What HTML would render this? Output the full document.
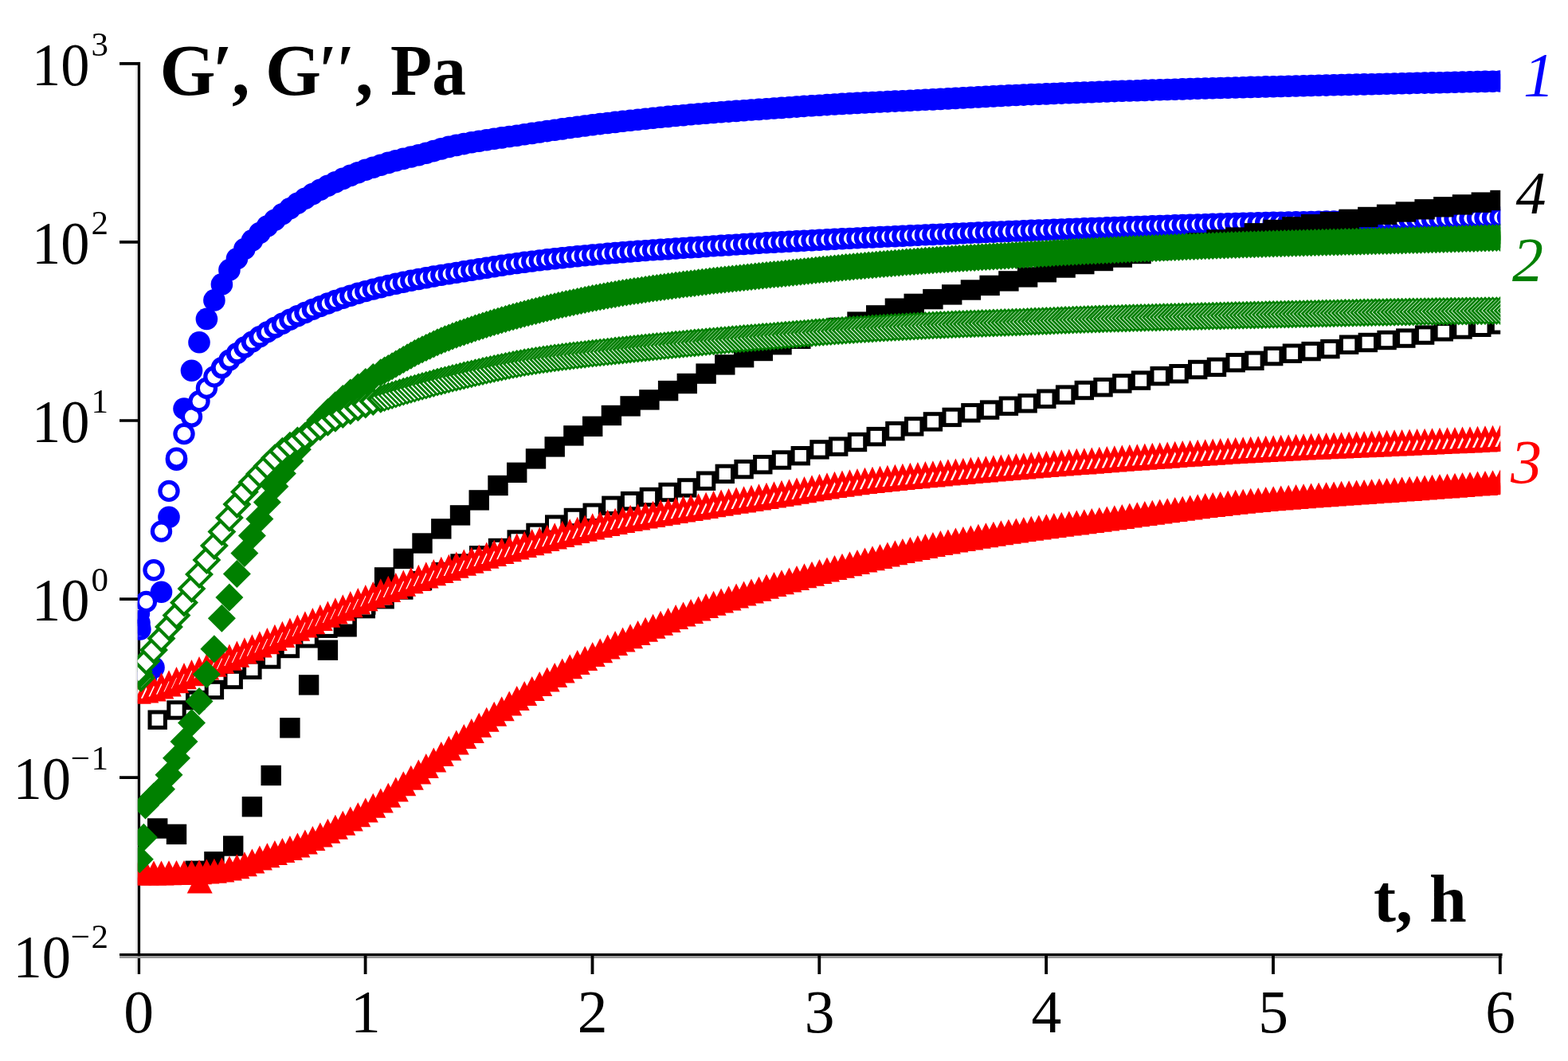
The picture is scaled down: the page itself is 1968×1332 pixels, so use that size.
<!DOCTYPE html>
<html lang="en"><head><meta charset="utf-8"><title>G', G'' vs t</title>
<style>
html,body{margin:0;padding:0;background:#fff;}
svg{display:block;}
text{font-family:"Liberation Serif","Times New Roman",serif;}
</style></head><body>
<svg width="1968" height="1332" viewBox="0 0 1968 1332">
<rect width="1968" height="1332" fill="#fff"/>
<defs><clipPath id="pc"><rect x="172.8" y="0" width="1710.4" height="1197"/></clipPath></defs>
<rect x="170.2" y="77.9" width="2.6" height="1145.1" fill="#ececec"/>
<rect x="172.8" y="77.9" width="3.3" height="1145.1" fill="#000"/>
<rect x="150" y="1196.9" width="1735.6" height="3.3" fill="#000"/>
<rect x="150" y="1200.2" width="1735.6" height="2.8" fill="#999"/>
<path d="M458.6 1200.0V1223.0M743.5 1200.0V1223.0M1028.3 1200.0V1223.0M1313.1 1200.0V1223.0M1598.0 1200.0V1223.0M1882.8 1200.0V1223.0" stroke="#000" stroke-width="3.8" fill="none"/>
<path d="M150 79.8H174.0M150 303.9H174.0M150 528.0H174.0M150 752.1H174.0M150 976.2H174.0" stroke="#000" stroke-width="3.7" fill="none"/>
<g clip-path="url(#pc)">
<g fill="#0000ff" stroke="none" stroke-width="0"><circle cx="175" cy="782" r="13.8"/><circle cx="183.5" cy="850" r="13.8"/><circle cx="193" cy="838" r="13.8"/><circle cx="202.5" cy="743.2" r="13.8"/><circle cx="212" cy="649.2" r="13.8"/><circle cx="221.5" cy="577.2" r="13.8"/><circle cx="231" cy="513" r="13.8"/><circle cx="240.5" cy="465.2" r="13.8"/><circle cx="250" cy="429.7" r="13.8"/><circle cx="259.4" cy="400.4" r="13.8"/><circle cx="268.9" cy="376.9" r="13.8"/><circle cx="278.4" cy="356.9" r="13.8"/><circle cx="287.9" cy="338.9" r="13.8"/><circle cx="297.4" cy="324.8" r="13.8"/><circle cx="306.9" cy="312.6" r="13.8"/><circle cx="316.4" cy="301.9" r="13.8"/><circle cx="325.9" cy="292.5" r="13.8"/><circle cx="335.4" cy="284.1" r="13.8"/><circle cx="344.9" cy="276.2" r="13.8"/><circle cx="354.4" cy="268.7" r="13.8"/><circle cx="363.9" cy="261.8" r="13.8"/><circle cx="373.4" cy="255.3" r="13.8"/><circle cx="382.9" cy="249.3" r="13.8"/><circle cx="392.4" cy="243.6" r="13.8"/><circle cx="401.9" cy="238.2" r="13.8"/><circle cx="411.4" cy="233.3" r="13.8"/><circle cx="420.9" cy="228.7" r="13.8"/><circle cx="430.3" cy="224.4" r="13.8"/><circle cx="439.8" cy="220.4" r="13.8"/><circle cx="449.3" cy="216.7" r="13.8"/><circle cx="458.8" cy="213.3" r="13.8"/><circle cx="468.3" cy="210.2" r="13.8"/><circle cx="477.8" cy="207.2" r="13.8"/><circle cx="487.3" cy="204.4" r="13.8"/><circle cx="496.8" cy="201.8" r="13.8"/><circle cx="506.3" cy="199.3" r="13.8"/><circle cx="515.8" cy="197" r="13.8"/><circle cx="525.3" cy="194.7" r="13.8"/><circle cx="534.8" cy="192.3" r="13.8"/><circle cx="544.3" cy="189.6" r="13.8"/><circle cx="553.8" cy="186.9" r="13.8"/><circle cx="563.3" cy="184.4" r="13.8"/><circle cx="572.8" cy="182.4" r="13.8"/><circle cx="582.3" cy="180.6" r="13.8"/><circle cx="591.8" cy="178.8" r="13.8"/><circle cx="601.2" cy="177.3" r="13.8"/><circle cx="610.7" cy="175.7" r="13.8"/><circle cx="620.2" cy="174.3" r="13.8"/><circle cx="629.7" cy="172.9" r="13.8"/><circle cx="639.2" cy="171.5" r="13.8"/><circle cx="648.7" cy="170.2" r="13.8"/><circle cx="658.2" cy="168.8" r="13.8"/><circle cx="667.7" cy="167.4" r="13.8"/><circle cx="677.2" cy="166" r="13.8"/><circle cx="686.7" cy="164.6" r="13.8"/><circle cx="696.2" cy="163.2" r="13.8"/><circle cx="705.7" cy="161.9" r="13.8"/><circle cx="715.2" cy="160.5" r="13.8"/><circle cx="724.7" cy="159.3" r="13.8"/><circle cx="734.2" cy="158" r="13.8"/><circle cx="743.7" cy="156.8" r="13.8"/><circle cx="753.2" cy="155.6" r="13.8"/><circle cx="762.7" cy="154.5" r="13.8"/><circle cx="772.1" cy="153.4" r="13.8"/><circle cx="781.6" cy="152.3" r="13.8"/><circle cx="791.1" cy="151.3" r="13.8"/><circle cx="800.6" cy="150.2" r="13.8"/><circle cx="810.1" cy="149.2" r="13.8"/><circle cx="819.6" cy="148.3" r="13.8"/><circle cx="829.1" cy="147.3" r="13.8"/><circle cx="838.6" cy="146.4" r="13.8"/><circle cx="848.1" cy="145.5" r="13.8"/><circle cx="857.6" cy="144.7" r="13.8"/><circle cx="867.1" cy="143.8" r="13.8"/><circle cx="876.6" cy="143" r="13.8"/><circle cx="886.1" cy="142.3" r="13.8"/><circle cx="895.6" cy="141.5" r="13.8"/><circle cx="905.1" cy="140.8" r="13.8"/><circle cx="914.6" cy="140.1" r="13.8"/><circle cx="924.1" cy="139.4" r="13.8"/><circle cx="933.6" cy="138.7" r="13.8"/><circle cx="943" cy="138" r="13.8"/><circle cx="952.5" cy="137.4" r="13.8"/><circle cx="962" cy="136.7" r="13.8"/><circle cx="971.5" cy="136" r="13.8"/><circle cx="981" cy="135.4" r="13.8"/><circle cx="990.5" cy="134.7" r="13.8"/><circle cx="1000" cy="134.1" r="13.8"/><circle cx="1009.5" cy="133.4" r="13.8"/><circle cx="1019" cy="132.8" r="13.8"/><circle cx="1028.5" cy="132.2" r="13.8"/><circle cx="1038" cy="131.6" r="13.8"/><circle cx="1047.5" cy="131" r="13.8"/><circle cx="1057" cy="130.4" r="13.8"/><circle cx="1066.5" cy="129.9" r="13.8"/><circle cx="1076" cy="129.4" r="13.8"/><circle cx="1085.5" cy="128.9" r="13.8"/><circle cx="1095" cy="128.5" r="13.8"/><circle cx="1104.5" cy="128" r="13.8"/><circle cx="1114" cy="127.6" r="13.8"/><circle cx="1123.4" cy="127.1" r="13.8"/><circle cx="1132.9" cy="126.7" r="13.8"/><circle cx="1142.4" cy="126.2" r="13.8"/><circle cx="1151.9" cy="125.8" r="13.8"/><circle cx="1161.4" cy="125.3" r="13.8"/><circle cx="1170.9" cy="124.9" r="13.8"/><circle cx="1180.4" cy="124.4" r="13.8"/><circle cx="1189.9" cy="123.9" r="13.8"/><circle cx="1199.4" cy="123.4" r="13.8"/><circle cx="1208.9" cy="122.9" r="13.8"/><circle cx="1218.4" cy="122.4" r="13.8"/><circle cx="1227.9" cy="121.9" r="13.8"/><circle cx="1237.4" cy="121.4" r="13.8"/><circle cx="1246.9" cy="120.9" r="13.8"/><circle cx="1256.4" cy="120.4" r="13.8"/><circle cx="1265.9" cy="119.9" r="13.8"/><circle cx="1275.4" cy="119.5" r="13.8"/><circle cx="1284.8" cy="119.1" r="13.8"/><circle cx="1294.3" cy="118.6" r="13.8"/><circle cx="1303.8" cy="118.2" r="13.8"/><circle cx="1313.3" cy="117.9" r="13.8"/><circle cx="1322.8" cy="117.5" r="13.8"/><circle cx="1332.3" cy="117.1" r="13.8"/><circle cx="1341.8" cy="116.7" r="13.8"/><circle cx="1351.3" cy="116.4" r="13.8"/><circle cx="1360.8" cy="116" r="13.8"/><circle cx="1370.3" cy="115.7" r="13.8"/><circle cx="1379.8" cy="115.3" r="13.8"/><circle cx="1389.3" cy="115" r="13.8"/><circle cx="1398.8" cy="114.6" r="13.8"/><circle cx="1408.3" cy="114.3" r="13.8"/><circle cx="1417.8" cy="114" r="13.8"/><circle cx="1427.3" cy="113.7" r="13.8"/><circle cx="1436.8" cy="113.4" r="13.8"/><circle cx="1446.3" cy="113.1" r="13.8"/><circle cx="1455.8" cy="112.8" r="13.8"/><circle cx="1465.2" cy="112.5" r="13.8"/><circle cx="1474.7" cy="112.2" r="13.8"/><circle cx="1484.2" cy="111.9" r="13.8"/><circle cx="1493.7" cy="111.6" r="13.8"/><circle cx="1503.2" cy="111.3" r="13.8"/><circle cx="1512.7" cy="111" r="13.8"/><circle cx="1522.2" cy="110.7" r="13.8"/><circle cx="1531.7" cy="110.5" r="13.8"/><circle cx="1541.2" cy="110.2" r="13.8"/><circle cx="1550.7" cy="110" r="13.8"/><circle cx="1560.2" cy="109.7" r="13.8"/><circle cx="1569.7" cy="109.4" r="13.8"/><circle cx="1579.2" cy="109.2" r="13.8"/><circle cx="1588.7" cy="108.9" r="13.8"/><circle cx="1598.2" cy="108.7" r="13.8"/><circle cx="1607.7" cy="108.5" r="13.8"/><circle cx="1617.2" cy="108.2" r="13.8"/><circle cx="1626.6" cy="108" r="13.8"/><circle cx="1636.1" cy="107.8" r="13.8"/><circle cx="1645.6" cy="107.5" r="13.8"/><circle cx="1655.1" cy="107.3" r="13.8"/><circle cx="1664.6" cy="107.1" r="13.8"/><circle cx="1674.1" cy="106.8" r="13.8"/><circle cx="1683.6" cy="106.6" r="13.8"/><circle cx="1693.1" cy="106.4" r="13.8"/><circle cx="1702.6" cy="106.1" r="13.8"/><circle cx="1712.1" cy="105.9" r="13.8"/><circle cx="1721.6" cy="105.7" r="13.8"/><circle cx="1731.1" cy="105.5" r="13.8"/><circle cx="1740.6" cy="105.2" r="13.8"/><circle cx="1750.1" cy="105" r="13.8"/><circle cx="1759.6" cy="104.8" r="13.8"/><circle cx="1769.1" cy="104.6" r="13.8"/><circle cx="1778.6" cy="104.3" r="13.8"/><circle cx="1788.1" cy="104.1" r="13.8"/><circle cx="1797.5" cy="103.9" r="13.8"/><circle cx="1807" cy="103.7" r="13.8"/><circle cx="1816.5" cy="103.5" r="13.8"/><circle cx="1826" cy="103.3" r="13.8"/><circle cx="1835.5" cy="103" r="13.8"/><circle cx="1845" cy="102.8" r="13.8"/><circle cx="1854.5" cy="102.6" r="13.8"/><circle cx="1864" cy="102.4" r="13.8"/><circle cx="1873.5" cy="102.2" r="13.8"/><circle cx="1883" cy="102" r="13.8"/></g>
<g fill="#fff" stroke="#0000ff" stroke-width="5.2"><circle cx="174.5" cy="770" r="11.1"/><circle cx="176" cy="790" r="11.1"/><circle cx="183.5" cy="755.4" r="11.1"/><circle cx="193" cy="715.8" r="11.1"/><circle cx="202.5" cy="667.1" r="11.1"/><circle cx="212" cy="616.4" r="11.1"/><circle cx="221.5" cy="575.1" r="11.1"/><circle cx="231" cy="544.6" r="11.1"/><circle cx="240.5" cy="523.1" r="11.1"/><circle cx="250" cy="503.8" r="11.1"/><circle cx="259.4" cy="487.3" r="11.1"/><circle cx="268.9" cy="472.9" r="11.1"/></g>
<g fill="#fff" stroke="#0000ff" stroke-width="6.0"><circle cx="278.4" cy="461.8" r="10.7"/><circle cx="287.9" cy="452.1" r="10.7"/><circle cx="297.4" cy="443.6" r="10.7"/><circle cx="306.9" cy="436" r="10.7"/><circle cx="316.4" cy="429.1" r="10.7"/><circle cx="325.9" cy="422.7" r="10.7"/><circle cx="335.4" cy="416.9" r="10.7"/><circle cx="344.9" cy="411.4" r="10.7"/><circle cx="354.4" cy="406.2" r="10.7"/><circle cx="363.9" cy="401.3" r="10.7"/><circle cx="373.4" cy="396.8" r="10.7"/><circle cx="382.9" cy="392.5" r="10.7"/><circle cx="392.4" cy="388.4" r="10.7"/><circle cx="401.9" cy="384.6" r="10.7"/><circle cx="411.4" cy="381" r="10.7"/><circle cx="420.9" cy="377.5" r="10.7"/><circle cx="430.3" cy="374.3" r="10.7"/><circle cx="439.8" cy="371.2" r="10.7"/><circle cx="449.3" cy="368.3" r="10.7"/><circle cx="458.8" cy="365.6" r="10.7"/><circle cx="468.3" cy="363.1" r="10.7"/><circle cx="477.8" cy="360.7" r="10.7"/><circle cx="487.3" cy="358.4" r="10.7"/><circle cx="496.8" cy="356.2" r="10.7"/><circle cx="506.3" cy="354.2" r="10.7"/><circle cx="515.8" cy="352.3" r="10.7"/><circle cx="525.3" cy="350.5" r="10.7"/><circle cx="534.8" cy="348.7" r="10.7"/><circle cx="544.3" cy="347" r="10.7"/><circle cx="553.8" cy="345.4" r="10.7"/><circle cx="563.3" cy="343.9" r="10.7"/><circle cx="572.8" cy="342.4" r="10.7"/><circle cx="582.3" cy="340.8" r="10.7"/><circle cx="591.8" cy="339.3" r="10.7"/><circle cx="601.2" cy="337.8" r="10.7"/><circle cx="610.7" cy="336.3" r="10.7"/><circle cx="620.2" cy="334.8" r="10.7"/><circle cx="629.7" cy="333.3" r="10.7"/><circle cx="639.2" cy="331.9" r="10.7"/><circle cx="648.7" cy="330.6" r="10.7"/><circle cx="658.2" cy="329.3" r="10.7"/><circle cx="667.7" cy="328.1" r="10.7"/><circle cx="677.2" cy="326.9" r="10.7"/><circle cx="686.7" cy="325.8" r="10.7"/><circle cx="696.2" cy="324.8" r="10.7"/><circle cx="705.7" cy="323.7" r="10.7"/><circle cx="715.2" cy="322.8" r="10.7"/><circle cx="724.7" cy="321.8" r="10.7"/><circle cx="734.2" cy="320.9" r="10.7"/><circle cx="743.7" cy="320" r="10.7"/><circle cx="753.2" cy="319.1" r="10.7"/><circle cx="762.7" cy="318.3" r="10.7"/><circle cx="772.1" cy="317.5" r="10.7"/><circle cx="781.6" cy="316.7" r="10.7"/><circle cx="791.1" cy="316" r="10.7"/><circle cx="800.6" cy="315.3" r="10.7"/><circle cx="810.1" cy="314.6" r="10.7"/><circle cx="819.6" cy="313.9" r="10.7"/><circle cx="829.1" cy="313.3" r="10.7"/><circle cx="838.6" cy="312.7" r="10.7"/><circle cx="848.1" cy="312" r="10.7"/><circle cx="857.6" cy="311.4" r="10.7"/><circle cx="867.1" cy="310.8" r="10.7"/><circle cx="876.6" cy="310.2" r="10.7"/><circle cx="886.1" cy="309.6" r="10.7"/><circle cx="895.6" cy="308.9" r="10.7"/><circle cx="905.1" cy="308.3" r="10.7"/><circle cx="914.6" cy="307.7" r="10.7"/><circle cx="924.1" cy="307.1" r="10.7"/><circle cx="933.6" cy="306.5" r="10.7"/><circle cx="943" cy="306" r="10.7"/><circle cx="952.5" cy="305.4" r="10.7"/><circle cx="962" cy="304.8" r="10.7"/><circle cx="971.5" cy="304.3" r="10.7"/><circle cx="981" cy="303.8" r="10.7"/><circle cx="990.5" cy="303.3" r="10.7"/><circle cx="1000" cy="302.8" r="10.7"/><circle cx="1009.5" cy="302.3" r="10.7"/><circle cx="1019" cy="301.8" r="10.7"/><circle cx="1028.5" cy="301.3" r="10.7"/><circle cx="1038" cy="300.8" r="10.7"/><circle cx="1047.5" cy="300.3" r="10.7"/><circle cx="1057" cy="299.8" r="10.7"/><circle cx="1066.5" cy="299.4" r="10.7"/><circle cx="1076" cy="298.9" r="10.7"/><circle cx="1085.5" cy="298.4" r="10.7"/><circle cx="1095" cy="298" r="10.7"/><circle cx="1104.5" cy="297.5" r="10.7"/><circle cx="1114" cy="297.1" r="10.7"/><circle cx="1123.4" cy="296.7" r="10.7"/><circle cx="1132.9" cy="296.2" r="10.7"/><circle cx="1142.4" cy="295.8" r="10.7"/><circle cx="1151.9" cy="295.4" r="10.7"/><circle cx="1161.4" cy="294.9" r="10.7"/><circle cx="1170.9" cy="294.5" r="10.7"/><circle cx="1180.4" cy="294.1" r="10.7"/><circle cx="1189.9" cy="293.7" r="10.7"/><circle cx="1199.4" cy="293.3" r="10.7"/><circle cx="1208.9" cy="292.9" r="10.7"/><circle cx="1218.4" cy="292.4" r="10.7"/><circle cx="1227.9" cy="292" r="10.7"/><circle cx="1237.4" cy="291.6" r="10.7"/><circle cx="1246.9" cy="291.3" r="10.7"/><circle cx="1256.4" cy="290.9" r="10.7"/><circle cx="1265.9" cy="290.5" r="10.7"/><circle cx="1275.4" cy="290.1" r="10.7"/><circle cx="1284.8" cy="289.7" r="10.7"/><circle cx="1294.3" cy="289.3" r="10.7"/><circle cx="1303.8" cy="289" r="10.7"/><circle cx="1313.3" cy="288.6" r="10.7"/><circle cx="1322.8" cy="288.2" r="10.7"/><circle cx="1332.3" cy="287.9" r="10.7"/><circle cx="1341.8" cy="287.5" r="10.7"/><circle cx="1351.3" cy="287.2" r="10.7"/><circle cx="1360.8" cy="286.8" r="10.7"/><circle cx="1370.3" cy="286.5" r="10.7"/><circle cx="1379.8" cy="286.1" r="10.7"/><circle cx="1389.3" cy="285.8" r="10.7"/><circle cx="1398.8" cy="285.5" r="10.7"/><circle cx="1408.3" cy="285.1" r="10.7"/><circle cx="1417.8" cy="284.8" r="10.7"/><circle cx="1427.3" cy="284.4" r="10.7"/><circle cx="1436.8" cy="284.1" r="10.7"/><circle cx="1446.3" cy="283.8" r="10.7"/><circle cx="1455.8" cy="283.5" r="10.7"/><circle cx="1465.2" cy="283.1" r="10.7"/><circle cx="1474.7" cy="282.8" r="10.7"/><circle cx="1484.2" cy="282.5" r="10.7"/><circle cx="1493.7" cy="282.2" r="10.7"/><circle cx="1503.2" cy="281.9" r="10.7"/><circle cx="1512.7" cy="281.6" r="10.7"/><circle cx="1522.2" cy="281.3" r="10.7"/><circle cx="1531.7" cy="281" r="10.7"/><circle cx="1541.2" cy="280.7" r="10.7"/><circle cx="1550.7" cy="280.5" r="10.7"/><circle cx="1560.2" cy="280.2" r="10.7"/><circle cx="1569.7" cy="280" r="10.7"/><circle cx="1579.2" cy="279.8" r="10.7"/><circle cx="1588.7" cy="279.5" r="10.7"/><circle cx="1598.2" cy="279.3" r="10.7"/><circle cx="1607.7" cy="279.1" r="10.7"/><circle cx="1617.2" cy="278.9" r="10.7"/><circle cx="1626.6" cy="278.7" r="10.7"/><circle cx="1636.1" cy="278.6" r="10.7"/><circle cx="1645.6" cy="278.4" r="10.7"/><circle cx="1655.1" cy="278.2" r="10.7"/><circle cx="1664.6" cy="278" r="10.7"/><circle cx="1674.1" cy="277.9" r="10.7"/><circle cx="1683.6" cy="277.7" r="10.7"/><circle cx="1693.1" cy="277.5" r="10.7"/><circle cx="1702.6" cy="277.4" r="10.7"/><circle cx="1712.1" cy="277.2" r="10.7"/><circle cx="1721.6" cy="277" r="10.7"/><circle cx="1731.1" cy="276.8" r="10.7"/><circle cx="1740.6" cy="276.6" r="10.7"/><circle cx="1750.1" cy="276.4" r="10.7"/><circle cx="1759.6" cy="276.2" r="10.7"/><circle cx="1769.1" cy="276" r="10.7"/><circle cx="1778.6" cy="275.8" r="10.7"/><circle cx="1788.1" cy="275.6" r="10.7"/><circle cx="1797.5" cy="275.3" r="10.7"/><circle cx="1807" cy="275.1" r="10.7"/><circle cx="1816.5" cy="274.8" r="10.7"/><circle cx="1826" cy="274.6" r="10.7"/><circle cx="1835.5" cy="274.3" r="10.7"/><circle cx="1845" cy="274.1" r="10.7"/><circle cx="1854.5" cy="273.8" r="10.7"/><circle cx="1864" cy="273.5" r="10.7"/><circle cx="1873.5" cy="273.3" r="10.7"/><circle cx="1883" cy="273" r="10.7"/><circle cx="1892.5" cy="272.7" r="10.7"/><circle cx="1902" cy="272.4" r="10.7"/></g>
<g fill="#0000ff" stroke="none" stroke-width="0"><circle cx="175.5" cy="776" r="10.5"/><circle cx="176.5" cy="788" r="10.5"/></g>
<g fill="#000000" stroke="none" stroke-width="0"><rect x="185" y="1027.3" width="25.4" height="25.4"/><rect x="208.8" y="1034.7" width="25.4" height="25.4"/><rect x="232.5" y="1080.6" width="25.4" height="25.4"/><rect x="256.2" y="1069.1" width="25.4" height="25.4"/><rect x="280" y="1049.3" width="25.4" height="25.4"/><rect x="303.7" y="1000.1" width="25.4" height="25.4"/><rect x="327.5" y="960.8" width="25.4" height="25.4"/><rect x="351.2" y="901.1" width="25.4" height="25.4"/><rect x="374.9" y="847.2" width="25.4" height="25.4"/><rect x="398.7" y="803.5" width="25.4" height="25.4"/><rect x="422.4" y="774.1" width="25.4" height="25.4"/><rect x="446.1" y="746.3" width="25.4" height="25.4"/><rect x="469.9" y="712.2" width="25.4" height="25.4"/><rect x="493.6" y="688.7" width="25.4" height="25.4"/><rect x="517.3" y="669.3" width="25.4" height="25.4"/><rect x="541.1" y="651.2" width="25.4" height="25.4"/><rect x="564.8" y="634.2" width="25.4" height="25.4"/><rect x="588.5" y="615.2" width="25.4" height="25.4"/><rect x="612.3" y="596.8" width="25.4" height="25.4"/><rect x="636" y="580.6" width="25.4" height="25.4"/><rect x="659.8" y="563.2" width="25.4" height="25.4"/><rect x="683.5" y="548.2" width="25.4" height="25.4"/><rect x="707.2" y="534.2" width="25.4" height="25.4"/><rect x="731" y="522.6" width="25.4" height="25.4"/><rect x="754.7" y="508.8" width="25.4" height="25.4"/><rect x="778.4" y="497.2" width="25.4" height="25.4"/><rect x="802.2" y="489.2" width="25.4" height="25.4"/><rect x="825.9" y="477.9" width="25.4" height="25.4"/><rect x="849.6" y="468.8" width="25.4" height="25.4"/><rect x="873.4" y="456.4" width="25.4" height="25.4"/><rect x="897.1" y="445.2" width="25.4" height="25.4"/><rect x="920.9" y="436" width="25.4" height="25.4"/><rect x="944.6" y="427.8" width="25.4" height="25.4"/><rect x="968.3" y="420" width="25.4" height="25.4"/><rect x="992.1" y="412.6" width="25.4" height="25.4"/><rect x="1015.8" y="405.7" width="25.4" height="25.4"/><rect x="1039.5" y="398.8" width="25.4" height="25.4"/><rect x="1063.3" y="391.4" width="25.4" height="25.4"/><rect x="1087" y="383.2" width="25.4" height="25.4"/><rect x="1110.7" y="374.5" width="25.4" height="25.4"/><rect x="1134.5" y="368.7" width="25.4" height="25.4"/><rect x="1158.2" y="362.9" width="25.4" height="25.4"/><rect x="1182" y="357.2" width="25.4" height="25.4"/><rect x="1205.7" y="351.3" width="25.4" height="25.4"/><rect x="1229.4" y="345.7" width="25.4" height="25.4"/><rect x="1253.2" y="340.2" width="25.4" height="25.4"/><rect x="1276.9" y="335.2" width="25.4" height="25.4"/><rect x="1300.6" y="329" width="25.4" height="25.4"/><rect x="1324.4" y="323.3" width="25.4" height="25.4"/><rect x="1348.1" y="318.9" width="25.4" height="25.4"/><rect x="1371.8" y="314.8" width="25.4" height="25.4"/><rect x="1395.6" y="310.4" width="25.4" height="25.4"/><rect x="1419.3" y="305.8" width="25.4" height="25.4"/><rect x="1443" y="301.2" width="25.4" height="25.4"/><rect x="1466.8" y="296.7" width="25.4" height="25.4"/><rect x="1490.5" y="292.3" width="25.4" height="25.4"/><rect x="1514.3" y="288.3" width="25.4" height="25.4"/><rect x="1538" y="285.4" width="25.4" height="25.4"/><rect x="1561.7" y="280.1" width="25.4" height="25.4"/><rect x="1585.5" y="275.8" width="25.4" height="25.4"/><rect x="1609.2" y="272.2" width="25.4" height="25.4"/><rect x="1632.9" y="269" width="25.4" height="25.4"/><rect x="1656.7" y="265.9" width="25.4" height="25.4"/><rect x="1680.4" y="262.7" width="25.4" height="25.4"/><rect x="1704.1" y="259.8" width="25.4" height="25.4"/><rect x="1727.9" y="256.6" width="25.4" height="25.4"/><rect x="1751.6" y="253.3" width="25.4" height="25.4"/><rect x="1775.4" y="250.1" width="25.4" height="25.4"/><rect x="1799.1" y="247.1" width="25.4" height="25.4"/><rect x="1822.8" y="244.2" width="25.4" height="25.4"/><rect x="1846.6" y="241.4" width="25.4" height="25.4"/><rect x="1870.3" y="238.8" width="25.4" height="25.4"/></g>
<g fill="#fff" stroke="#000000" stroke-width="5"><rect x="188" y="894" width="19.4" height="19.4"/><rect x="211.8" y="881.8" width="19.4" height="19.4"/><rect x="235.5" y="869.3" width="19.4" height="19.4"/><rect x="259.2" y="856.3" width="19.4" height="19.4"/><rect x="283" y="843.3" width="19.4" height="19.4"/><rect x="306.7" y="831" width="19.4" height="19.4"/><rect x="330.5" y="817.8" width="19.4" height="19.4"/><rect x="354.2" y="804.3" width="19.4" height="19.4"/><rect x="377.9" y="791.6" width="19.4" height="19.4"/><rect x="401.7" y="779" width="19.4" height="19.4"/><rect x="425.4" y="766.6" width="19.4" height="19.4"/><rect x="449.1" y="754.4" width="19.4" height="19.4"/><rect x="472.9" y="742.5" width="19.4" height="19.4"/><rect x="496.6" y="730.8" width="19.4" height="19.4"/><rect x="520.3" y="719.4" width="19.4" height="19.4"/><rect x="544.1" y="708.4" width="19.4" height="19.4"/><rect x="567.8" y="697.8" width="19.4" height="19.4"/><rect x="591.5" y="687.6" width="19.4" height="19.4"/><rect x="615.3" y="678.3" width="19.4" height="19.4"/><rect x="639" y="667.8" width="19.4" height="19.4"/><rect x="662.8" y="659.2" width="19.4" height="19.4"/><rect x="686.5" y="648.9" width="19.4" height="19.4"/><rect x="710.2" y="640.3" width="19.4" height="19.4"/><rect x="734" y="634.1" width="19.4" height="19.4"/><rect x="757.7" y="625.1" width="19.4" height="19.4"/><rect x="781.4" y="619.4" width="19.4" height="19.4"/><rect x="805.2" y="614.3" width="19.4" height="19.4"/><rect x="828.9" y="608.3" width="19.4" height="19.4"/><rect x="852.6" y="602.7" width="19.4" height="19.4"/><rect x="876.4" y="594" width="19.4" height="19.4"/><rect x="900.1" y="585.2" width="19.4" height="19.4"/><rect x="923.9" y="579.4" width="19.4" height="19.4"/><rect x="947.6" y="573.5" width="19.4" height="19.4"/><rect x="971.3" y="567.8" width="19.4" height="19.4"/><rect x="995.1" y="562.5" width="19.4" height="19.4"/><rect x="1018.8" y="554.7" width="19.4" height="19.4"/><rect x="1042.5" y="550.9" width="19.4" height="19.4"/><rect x="1066.3" y="545.3" width="19.4" height="19.4"/><rect x="1090" y="538.4" width="19.4" height="19.4"/><rect x="1113.7" y="531.4" width="19.4" height="19.4"/><rect x="1137.5" y="525.7" width="19.4" height="19.4"/><rect x="1161.2" y="519.7" width="19.4" height="19.4"/><rect x="1185" y="514.2" width="19.4" height="19.4"/><rect x="1208.7" y="508.6" width="19.4" height="19.4"/><rect x="1232.4" y="504.9" width="19.4" height="19.4"/><rect x="1256.2" y="500" width="19.4" height="19.4"/><rect x="1279.9" y="496.6" width="19.4" height="19.4"/><rect x="1303.6" y="491" width="19.4" height="19.4"/><rect x="1327.4" y="485.9" width="19.4" height="19.4"/><rect x="1351.1" y="480.3" width="19.4" height="19.4"/><rect x="1374.8" y="476.5" width="19.4" height="19.4"/><rect x="1398.6" y="471.7" width="19.4" height="19.4"/><rect x="1422.3" y="467.9" width="19.4" height="19.4"/><rect x="1446" y="462.4" width="19.4" height="19.4"/><rect x="1469.8" y="459.5" width="19.4" height="19.4"/><rect x="1493.5" y="454.3" width="19.4" height="19.4"/><rect x="1517.3" y="451.2" width="19.4" height="19.4"/><rect x="1541" y="445.5" width="19.4" height="19.4"/><rect x="1564.7" y="443.1" width="19.4" height="19.4"/><rect x="1588.5" y="437.4" width="19.4" height="19.4"/><rect x="1612.2" y="434" width="19.4" height="19.4"/><rect x="1635.9" y="431.4" width="19.4" height="19.4"/><rect x="1659.7" y="428.4" width="19.4" height="19.4"/><rect x="1683.4" y="423" width="19.4" height="19.4"/><rect x="1707.1" y="420.3" width="19.4" height="19.4"/><rect x="1730.9" y="417.3" width="19.4" height="19.4"/><rect x="1754.6" y="414.9" width="19.4" height="19.4"/><rect x="1778.4" y="410.9" width="19.4" height="19.4"/><rect x="1802.1" y="406.6" width="19.4" height="19.4"/><rect x="1825.8" y="403.8" width="19.4" height="19.4"/><rect x="1849.6" y="401.1" width="19.4" height="19.4"/><rect x="1873.3" y="397.7" width="19.4" height="19.4"/></g>
<g fill="#ff0000" stroke="none" stroke-width="0"><path d="M234.7 1121.5l16.0 -31l16.0 31z"/><path d="M158 1111.5l16.0 -31l16.0 31z"/><path d="M167.5 1111.5l16.0 -31l16.0 31z"/><path d="M177 1111.4l16.0 -31l16.0 31z"/><path d="M186.5 1111.4l16.0 -31l16.0 31z"/><path d="M196 1111.3l16.0 -31l16.0 31z"/><path d="M205.5 1111.1l16.0 -31l16.0 31z"/><path d="M215 1111l16.0 -31l16.0 31z"/><path d="M224.5 1110.7l16.0 -31l16.0 31z"/><path d="M234 1110.2l16.0 -31l16.0 31z"/><path d="M243.4 1109.6l16.0 -31l16.0 31z"/><path d="M252.9 1108.8l16.0 -31l16.0 31z"/><path d="M262.4 1107.6l16.0 -31l16.0 31z"/><path d="M271.9 1105.6l16.0 -31l16.0 31z"/><path d="M281.4 1103.2l16.0 -31l16.0 31z"/><path d="M290.9 1100.3l16.0 -31l16.0 31z"/><path d="M300.4 1096.4l16.0 -31l16.0 31z"/><path d="M309.9 1092.5l16.0 -31l16.0 31z"/><path d="M319.4 1089.2l16.0 -31l16.0 31z"/><path d="M328.9 1086.1l16.0 -31l16.0 31z"/><path d="M338.4 1083.1l16.0 -31l16.0 31z"/><path d="M347.9 1080l16.0 -31l16.0 31z"/><path d="M357.4 1076.5l16.0 -31l16.0 31z"/><path d="M366.9 1072.5l16.0 -31l16.0 31z"/><path d="M376.4 1068.1l16.0 -31l16.0 31z"/><path d="M385.9 1063.5l16.0 -31l16.0 31z"/><path d="M395.4 1058.7l16.0 -31l16.0 31z"/><path d="M404.9 1053.7l16.0 -31l16.0 31z"/><path d="M414.3 1048.7l16.0 -31l16.0 31z"/><path d="M423.8 1043.5l16.0 -31l16.0 31z"/><path d="M433.3 1038.2l16.0 -31l16.0 31z"/><path d="M442.8 1032.6l16.0 -31l16.0 31z"/><path d="M452.3 1026.7l16.0 -31l16.0 31z"/><path d="M461.8 1020.5l16.0 -31l16.0 31z"/><path d="M471.3 1013.8l16.0 -31l16.0 31z"/><path d="M480.8 1006.6l16.0 -31l16.0 31z"/><path d="M490.3 999.2l16.0 -31l16.0 31z"/><path d="M499.8 991.7l16.0 -31l16.0 31z"/><path d="M509.3 984.4l16.0 -31l16.0 31z"/><path d="M518.8 977l16.0 -31l16.0 31z"/><path d="M528.3 969.6l16.0 -31l16.0 31z"/><path d="M537.8 962.1l16.0 -31l16.0 31z"/><path d="M547.3 954.7l16.0 -31l16.0 31z"/><path d="M556.8 947.4l16.0 -31l16.0 31z"/><path d="M566.3 940.1l16.0 -31l16.0 31z"/><path d="M575.8 932.9l16.0 -31l16.0 31z"/><path d="M585.2 925.7l16.0 -31l16.0 31z"/><path d="M594.7 918.7l16.0 -31l16.0 31z"/><path d="M604.2 911.8l16.0 -31l16.0 31z"/><path d="M613.7 905.2l16.0 -31l16.0 31z"/><path d="M623.2 898.6l16.0 -31l16.0 31z"/><path d="M632.7 892.1l16.0 -31l16.0 31z"/><path d="M642.2 885.9l16.0 -31l16.0 31z"/><path d="M651.7 879.9l16.0 -31l16.0 31z"/><path d="M661.2 874.1l16.0 -31l16.0 31z"/><path d="M670.7 868.5l16.0 -31l16.0 31z"/><path d="M680.2 863l16.0 -31l16.0 31z"/><path d="M689.7 857.6l16.0 -31l16.0 31z"/><path d="M699.2 852.3l16.0 -31l16.0 31z"/><path d="M708.7 847.1l16.0 -31l16.0 31z"/><path d="M718.2 842l16.0 -31l16.0 31z"/><path d="M727.7 837.1l16.0 -31l16.0 31z"/><path d="M737.2 832.3l16.0 -31l16.0 31z"/><path d="M746.7 827.6l16.0 -31l16.0 31z"/><path d="M756.1 823l16.0 -31l16.0 31z"/><path d="M765.6 818.6l16.0 -31l16.0 31z"/><path d="M775.1 814.2l16.0 -31l16.0 31z"/><path d="M784.6 810l16.0 -31l16.0 31z"/><path d="M794.1 805.8l16.0 -31l16.0 31z"/><path d="M803.6 801.7l16.0 -31l16.0 31z"/><path d="M813.1 797.8l16.0 -31l16.0 31z"/><path d="M822.6 793.9l16.0 -31l16.0 31z"/><path d="M832.1 790.1l16.0 -31l16.0 31z"/><path d="M841.6 786.4l16.0 -31l16.0 31z"/><path d="M851.1 782.9l16.0 -31l16.0 31z"/><path d="M860.6 779.4l16.0 -31l16.0 31z"/><path d="M870.1 776l16.0 -31l16.0 31z"/><path d="M879.6 772.7l16.0 -31l16.0 31z"/><path d="M889.1 769.6l16.0 -31l16.0 31z"/><path d="M898.6 766.5l16.0 -31l16.0 31z"/><path d="M908.1 763.4l16.0 -31l16.0 31z"/><path d="M917.6 760.5l16.0 -31l16.0 31z"/><path d="M927 757.5l16.0 -31l16.0 31z"/><path d="M936.5 754.7l16.0 -31l16.0 31z"/><path d="M946 751.8l16.0 -31l16.0 31z"/><path d="M955.5 749.1l16.0 -31l16.0 31z"/><path d="M965 746.3l16.0 -31l16.0 31z"/><path d="M974.5 743.6l16.0 -31l16.0 31z"/><path d="M984 740.9l16.0 -31l16.0 31z"/><path d="M993.5 738.3l16.0 -31l16.0 31z"/><path d="M1003 735.7l16.0 -31l16.0 31z"/><path d="M1012.5 733.1l16.0 -31l16.0 31z"/><path d="M1022 730.6l16.0 -31l16.0 31z"/><path d="M1031.5 728.1l16.0 -31l16.0 31z"/><path d="M1041 725.7l16.0 -31l16.0 31z"/><path d="M1050.5 723.3l16.0 -31l16.0 31z"/><path d="M1060 720.9l16.0 -31l16.0 31z"/><path d="M1069.5 718.5l16.0 -31l16.0 31z"/><path d="M1079 716.2l16.0 -31l16.0 31z"/><path d="M1088.5 713.9l16.0 -31l16.0 31z"/><path d="M1097.9 711.6l16.0 -31l16.0 31z"/><path d="M1107.4 709.3l16.0 -31l16.0 31z"/><path d="M1116.9 707.1l16.0 -31l16.0 31z"/><path d="M1126.4 705l16.0 -31l16.0 31z"/><path d="M1135.9 702.9l16.0 -31l16.0 31z"/><path d="M1145.4 700.9l16.0 -31l16.0 31z"/><path d="M1154.9 699l16.0 -31l16.0 31z"/><path d="M1164.4 697.1l16.0 -31l16.0 31z"/><path d="M1173.9 695.4l16.0 -31l16.0 31z"/><path d="M1183.4 693.6l16.0 -31l16.0 31z"/><path d="M1192.9 692l16.0 -31l16.0 31z"/><path d="M1202.4 690.4l16.0 -31l16.0 31z"/><path d="M1211.9 688.8l16.0 -31l16.0 31z"/><path d="M1221.4 687.2l16.0 -31l16.0 31z"/><path d="M1230.9 685.7l16.0 -31l16.0 31z"/><path d="M1240.4 684.3l16.0 -31l16.0 31z"/><path d="M1249.9 682.8l16.0 -31l16.0 31z"/><path d="M1259.4 681.4l16.0 -31l16.0 31z"/><path d="M1268.8 680.1l16.0 -31l16.0 31z"/><path d="M1278.3 678.7l16.0 -31l16.0 31z"/><path d="M1287.8 677.5l16.0 -31l16.0 31z"/><path d="M1297.3 676.2l16.0 -31l16.0 31z"/><path d="M1306.8 675l16.0 -31l16.0 31z"/><path d="M1316.3 673.8l16.0 -31l16.0 31z"/><path d="M1325.8 672.6l16.0 -31l16.0 31z"/><path d="M1335.3 671.4l16.0 -31l16.0 31z"/><path d="M1344.8 670.2l16.0 -31l16.0 31z"/><path d="M1354.3 669l16.0 -31l16.0 31z"/><path d="M1363.8 667.7l16.0 -31l16.0 31z"/><path d="M1373.3 666.5l16.0 -31l16.0 31z"/><path d="M1382.8 665.2l16.0 -31l16.0 31z"/><path d="M1392.3 663.9l16.0 -31l16.0 31z"/><path d="M1401.8 662.6l16.0 -31l16.0 31z"/><path d="M1411.3 661.3l16.0 -31l16.0 31z"/><path d="M1420.8 660.1l16.0 -31l16.0 31z"/><path d="M1430.3 658.8l16.0 -31l16.0 31z"/><path d="M1439.7 657.5l16.0 -31l16.0 31z"/><path d="M1449.2 656.2l16.0 -31l16.0 31z"/><path d="M1458.7 654.9l16.0 -31l16.0 31z"/><path d="M1468.2 653.7l16.0 -31l16.0 31z"/><path d="M1477.7 652.5l16.0 -31l16.0 31z"/><path d="M1487.2 651.3l16.0 -31l16.0 31z"/><path d="M1496.7 650.1l16.0 -31l16.0 31z"/><path d="M1506.2 649l16.0 -31l16.0 31z"/><path d="M1515.7 647.9l16.0 -31l16.0 31z"/><path d="M1525.2 646.8l16.0 -31l16.0 31z"/><path d="M1534.7 645.8l16.0 -31l16.0 31z"/><path d="M1544.2 644.8l16.0 -31l16.0 31z"/><path d="M1553.7 643.8l16.0 -31l16.0 31z"/><path d="M1563.2 643l16.0 -31l16.0 31z"/><path d="M1572.7 642.1l16.0 -31l16.0 31z"/><path d="M1582.2 641.3l16.0 -31l16.0 31z"/><path d="M1591.7 640.5l16.0 -31l16.0 31z"/><path d="M1601.2 639.7l16.0 -31l16.0 31z"/><path d="M1610.6 639l16.0 -31l16.0 31z"/><path d="M1620.1 638.2l16.0 -31l16.0 31z"/><path d="M1629.6 637.5l16.0 -31l16.0 31z"/><path d="M1639.1 636.8l16.0 -31l16.0 31z"/><path d="M1648.6 636.2l16.0 -31l16.0 31z"/><path d="M1658.1 635.5l16.0 -31l16.0 31z"/><path d="M1667.6 634.8l16.0 -31l16.0 31z"/><path d="M1677.1 634.2l16.0 -31l16.0 31z"/><path d="M1686.6 633.5l16.0 -31l16.0 31z"/><path d="M1696.1 632.9l16.0 -31l16.0 31z"/><path d="M1705.6 632.2l16.0 -31l16.0 31z"/><path d="M1715.1 631.6l16.0 -31l16.0 31z"/><path d="M1724.6 630.9l16.0 -31l16.0 31z"/><path d="M1734.1 630.2l16.0 -31l16.0 31z"/><path d="M1743.6 629.6l16.0 -31l16.0 31z"/><path d="M1753.1 628.9l16.0 -31l16.0 31z"/><path d="M1762.6 628.2l16.0 -31l16.0 31z"/><path d="M1772.1 627.5l16.0 -31l16.0 31z"/><path d="M1781.5 626.8l16.0 -31l16.0 31z"/><path d="M1791 626.1l16.0 -31l16.0 31z"/><path d="M1800.5 625.4l16.0 -31l16.0 31z"/><path d="M1810 624.7l16.0 -31l16.0 31z"/><path d="M1819.5 624l16.0 -31l16.0 31z"/><path d="M1829 623.3l16.0 -31l16.0 31z"/><path d="M1838.5 622.6l16.0 -31l16.0 31z"/><path d="M1848 621.9l16.0 -31l16.0 31z"/><path d="M1857.5 621.2l16.0 -31l16.0 31z"/><path d="M1867 620.5l16.0 -31l16.0 31z"/><path d="M1876.5 619.8l16.0 -31l16.0 31z"/><path d="M1886 619.1l16.0 -31l16.0 31z"/><path d="M1895.5 618.4l16.0 -31l16.0 31z"/></g>
<g fill="#fff" stroke="#ff0000" stroke-width="5.8"><path d="M162.8 880.8l11.2 -23.6l11.2 23.6z"/><path d="M172.3 879.6l11.2 -23.6l11.2 23.6z"/><path d="M181.8 877.5l11.2 -23.6l11.2 23.6z"/><path d="M191.3 874.7l11.2 -23.6l11.2 23.6z"/><path d="M200.8 871.5l11.2 -23.6l11.2 23.6z"/><path d="M210.3 867.3l11.2 -23.6l11.2 23.6z"/><path d="M219.8 862.4l11.2 -23.6l11.2 23.6z"/><path d="M229.3 858.3l11.2 -23.6l11.2 23.6z"/><path d="M238.8 854.4l11.2 -23.6l11.2 23.6z"/><path d="M248.2 850.7l11.2 -23.6l11.2 23.6z"/><path d="M257.7 846.9l11.2 -23.6l11.2 23.6z"/><path d="M267.2 842.9l11.2 -23.6l11.2 23.6z"/><path d="M276.7 838.9l11.2 -23.6l11.2 23.6z"/><path d="M286.2 834.8l11.2 -23.6l11.2 23.6z"/><path d="M295.7 830.7l11.2 -23.6l11.2 23.6z"/><path d="M305.2 826.6l11.2 -23.6l11.2 23.6z"/><path d="M314.7 822.5l11.2 -23.6l11.2 23.6z"/><path d="M324.2 818.3l11.2 -23.6l11.2 23.6z"/><path d="M333.7 814.2l11.2 -23.6l11.2 23.6z"/><path d="M343.2 810l11.2 -23.6l11.2 23.6z"/><path d="M352.7 805.9l11.2 -23.6l11.2 23.6z"/><path d="M362.2 801.8l11.2 -23.6l11.2 23.6z"/><path d="M371.7 797.6l11.2 -23.6l11.2 23.6z"/><path d="M381.2 793.4l11.2 -23.6l11.2 23.6z"/><path d="M390.7 789.2l11.2 -23.6l11.2 23.6z"/><path d="M400.2 784.9l11.2 -23.6l11.2 23.6z"/><path d="M409.7 780.7l11.2 -23.6l11.2 23.6z"/><path d="M419.1 776.5l11.2 -23.6l11.2 23.6z"/><path d="M428.6 772.4l11.2 -23.6l11.2 23.6z"/><path d="M438.1 768.3l11.2 -23.6l11.2 23.6z"/><path d="M447.6 764.3l11.2 -23.6l11.2 23.6z"/><path d="M457.1 760.4l11.2 -23.6l11.2 23.6z"/><path d="M466.6 756.7l11.2 -23.6l11.2 23.6z"/><path d="M476.1 753l11.2 -23.6l11.2 23.6z"/><path d="M485.6 749.4l11.2 -23.6l11.2 23.6z"/><path d="M495.1 745.9l11.2 -23.6l11.2 23.6z"/><path d="M504.6 742.4l11.2 -23.6l11.2 23.6z"/><path d="M514.1 739l11.2 -23.6l11.2 23.6z"/><path d="M523.6 735.7l11.2 -23.6l11.2 23.6z"/><path d="M533.1 732.4l11.2 -23.6l11.2 23.6z"/><path d="M542.6 729.2l11.2 -23.6l11.2 23.6z"/><path d="M552.1 726l11.2 -23.6l11.2 23.6z"/><path d="M561.6 722.9l11.2 -23.6l11.2 23.6z"/><path d="M571.1 719.8l11.2 -23.6l11.2 23.6z"/><path d="M580.6 716.8l11.2 -23.6l11.2 23.6z"/><path d="M590 713.8l11.2 -23.6l11.2 23.6z"/><path d="M599.5 710.9l11.2 -23.6l11.2 23.6z"/><path d="M609 708l11.2 -23.6l11.2 23.6z"/><path d="M618.5 705.2l11.2 -23.6l11.2 23.6z"/><path d="M628 702.4l11.2 -23.6l11.2 23.6z"/><path d="M637.5 699.7l11.2 -23.6l11.2 23.6z"/><path d="M647 697l11.2 -23.6l11.2 23.6z"/><path d="M656.5 694.4l11.2 -23.6l11.2 23.6z"/><path d="M666 691.8l11.2 -23.6l11.2 23.6z"/><path d="M675.5 689.2l11.2 -23.6l11.2 23.6z"/><path d="M685 686.6l11.2 -23.6l11.2 23.6z"/><path d="M694.5 684.1l11.2 -23.6l11.2 23.6z"/><path d="M704 681.6l11.2 -23.6l11.2 23.6z"/><path d="M713.5 679.1l11.2 -23.6l11.2 23.6z"/><path d="M723 676.8l11.2 -23.6l11.2 23.6z"/><path d="M732.5 674.5l11.2 -23.6l11.2 23.6z"/><path d="M742 672.2l11.2 -23.6l11.2 23.6z"/><path d="M751.5 670.1l11.2 -23.6l11.2 23.6z"/><path d="M760.9 668l11.2 -23.6l11.2 23.6z"/><path d="M770.4 666.1l11.2 -23.6l11.2 23.6z"/><path d="M779.9 664.2l11.2 -23.6l11.2 23.6z"/><path d="M789.4 662.5l11.2 -23.6l11.2 23.6z"/><path d="M798.9 660.7l11.2 -23.6l11.2 23.6z"/><path d="M808.4 659.1l11.2 -23.6l11.2 23.6z"/><path d="M817.9 657.4l11.2 -23.6l11.2 23.6z"/><path d="M827.4 655.8l11.2 -23.6l11.2 23.6z"/><path d="M836.9 654.2l11.2 -23.6l11.2 23.6z"/><path d="M846.4 652.7l11.2 -23.6l11.2 23.6z"/><path d="M855.9 651.1l11.2 -23.6l11.2 23.6z"/><path d="M865.4 649.5l11.2 -23.6l11.2 23.6z"/><path d="M874.9 648l11.2 -23.6l11.2 23.6z"/><path d="M884.4 646.4l11.2 -23.6l11.2 23.6z"/><path d="M893.9 644.9l11.2 -23.6l11.2 23.6z"/><path d="M903.4 643.4l11.2 -23.6l11.2 23.6z"/><path d="M912.9 641.9l11.2 -23.6l11.2 23.6z"/><path d="M922.4 640.5l11.2 -23.6l11.2 23.6z"/><path d="M931.8 639l11.2 -23.6l11.2 23.6z"/><path d="M941.3 637.5l11.2 -23.6l11.2 23.6z"/><path d="M950.8 636l11.2 -23.6l11.2 23.6z"/><path d="M960.3 634.6l11.2 -23.6l11.2 23.6z"/><path d="M969.8 633l11.2 -23.6l11.2 23.6z"/><path d="M979.3 631.5l11.2 -23.6l11.2 23.6z"/><path d="M988.8 629.9l11.2 -23.6l11.2 23.6z"/><path d="M998.3 628.3l11.2 -23.6l11.2 23.6z"/><path d="M1007.8 626.7l11.2 -23.6l11.2 23.6z"/><path d="M1017.3 625.1l11.2 -23.6l11.2 23.6z"/><path d="M1026.8 623.6l11.2 -23.6l11.2 23.6z"/><path d="M1036.3 622.1l11.2 -23.6l11.2 23.6z"/><path d="M1045.8 620.8l11.2 -23.6l11.2 23.6z"/><path d="M1055.3 619.5l11.2 -23.6l11.2 23.6z"/><path d="M1064.8 618.3l11.2 -23.6l11.2 23.6z"/><path d="M1074.3 617.1l11.2 -23.6l11.2 23.6z"/><path d="M1083.8 616.1l11.2 -23.6l11.2 23.6z"/><path d="M1093.3 615l11.2 -23.6l11.2 23.6z"/><path d="M1102.7 614l11.2 -23.6l11.2 23.6z"/><path d="M1112.2 613.1l11.2 -23.6l11.2 23.6z"/><path d="M1121.7 612.1l11.2 -23.6l11.2 23.6z"/><path d="M1131.2 611.2l11.2 -23.6l11.2 23.6z"/><path d="M1140.7 610.3l11.2 -23.6l11.2 23.6z"/><path d="M1150.2 609.4l11.2 -23.6l11.2 23.6z"/><path d="M1159.7 608.5l11.2 -23.6l11.2 23.6z"/><path d="M1169.2 607.6l11.2 -23.6l11.2 23.6z"/><path d="M1178.7 606.7l11.2 -23.6l11.2 23.6z"/><path d="M1188.2 605.9l11.2 -23.6l11.2 23.6z"/><path d="M1197.7 605l11.2 -23.6l11.2 23.6z"/><path d="M1207.2 604.2l11.2 -23.6l11.2 23.6z"/><path d="M1216.7 603.3l11.2 -23.6l11.2 23.6z"/><path d="M1226.2 602.5l11.2 -23.6l11.2 23.6z"/><path d="M1235.7 601.7l11.2 -23.6l11.2 23.6z"/><path d="M1245.2 600.9l11.2 -23.6l11.2 23.6z"/><path d="M1254.7 600.1l11.2 -23.6l11.2 23.6z"/><path d="M1264.2 599.3l11.2 -23.6l11.2 23.6z"/><path d="M1273.6 598.5l11.2 -23.6l11.2 23.6z"/><path d="M1283.1 597.7l11.2 -23.6l11.2 23.6z"/><path d="M1292.6 596.9l11.2 -23.6l11.2 23.6z"/><path d="M1302.1 596.2l11.2 -23.6l11.2 23.6z"/><path d="M1311.6 595.4l11.2 -23.6l11.2 23.6z"/><path d="M1321.1 594.7l11.2 -23.6l11.2 23.6z"/><path d="M1330.6 593.9l11.2 -23.6l11.2 23.6z"/><path d="M1340.1 593.2l11.2 -23.6l11.2 23.6z"/><path d="M1349.6 592.5l11.2 -23.6l11.2 23.6z"/><path d="M1359.1 591.8l11.2 -23.6l11.2 23.6z"/><path d="M1368.6 591.1l11.2 -23.6l11.2 23.6z"/><path d="M1378.1 590.4l11.2 -23.6l11.2 23.6z"/><path d="M1387.6 589.7l11.2 -23.6l11.2 23.6z"/><path d="M1397.1 588.9l11.2 -23.6l11.2 23.6z"/><path d="M1406.6 588.2l11.2 -23.6l11.2 23.6z"/><path d="M1416.1 587.5l11.2 -23.6l11.2 23.6z"/><path d="M1425.6 586.8l11.2 -23.6l11.2 23.6z"/><path d="M1435.1 586.1l11.2 -23.6l11.2 23.6z"/><path d="M1444.5 585.5l11.2 -23.6l11.2 23.6z"/><path d="M1454 584.8l11.2 -23.6l11.2 23.6z"/><path d="M1463.5 584.1l11.2 -23.6l11.2 23.6z"/><path d="M1473 583.4l11.2 -23.6l11.2 23.6z"/><path d="M1482.5 582.8l11.2 -23.6l11.2 23.6z"/><path d="M1492 582.1l11.2 -23.6l11.2 23.6z"/><path d="M1501.5 581.5l11.2 -23.6l11.2 23.6z"/><path d="M1511 580.9l11.2 -23.6l11.2 23.6z"/><path d="M1520.5 580.3l11.2 -23.6l11.2 23.6z"/><path d="M1530 579.7l11.2 -23.6l11.2 23.6z"/><path d="M1539.5 579.1l11.2 -23.6l11.2 23.6z"/><path d="M1549 578.5l11.2 -23.6l11.2 23.6z"/><path d="M1558.5 578l11.2 -23.6l11.2 23.6z"/><path d="M1568 577.5l11.2 -23.6l11.2 23.6z"/><path d="M1577.5 577l11.2 -23.6l11.2 23.6z"/><path d="M1587 576.5l11.2 -23.6l11.2 23.6z"/><path d="M1596.5 576l11.2 -23.6l11.2 23.6z"/><path d="M1606 575.5l11.2 -23.6l11.2 23.6z"/><path d="M1615.4 575.1l11.2 -23.6l11.2 23.6z"/><path d="M1624.9 574.6l11.2 -23.6l11.2 23.6z"/><path d="M1634.4 574.2l11.2 -23.6l11.2 23.6z"/><path d="M1643.9 573.8l11.2 -23.6l11.2 23.6z"/><path d="M1653.4 573.4l11.2 -23.6l11.2 23.6z"/><path d="M1662.9 572.9l11.2 -23.6l11.2 23.6z"/><path d="M1672.4 572.5l11.2 -23.6l11.2 23.6z"/><path d="M1681.9 572.1l11.2 -23.6l11.2 23.6z"/><path d="M1691.4 571.7l11.2 -23.6l11.2 23.6z"/><path d="M1700.9 571.3l11.2 -23.6l11.2 23.6z"/><path d="M1710.4 570.9l11.2 -23.6l11.2 23.6z"/><path d="M1719.9 570.5l11.2 -23.6l11.2 23.6z"/><path d="M1729.4 570.1l11.2 -23.6l11.2 23.6z"/><path d="M1738.9 569.7l11.2 -23.6l11.2 23.6z"/><path d="M1748.4 569.3l11.2 -23.6l11.2 23.6z"/><path d="M1757.9 568.8l11.2 -23.6l11.2 23.6z"/><path d="M1767.4 568.4l11.2 -23.6l11.2 23.6z"/><path d="M1776.9 568l11.2 -23.6l11.2 23.6z"/><path d="M1786.3 567.6l11.2 -23.6l11.2 23.6z"/><path d="M1795.8 567.1l11.2 -23.6l11.2 23.6z"/><path d="M1805.3 566.7l11.2 -23.6l11.2 23.6z"/><path d="M1814.8 566.3l11.2 -23.6l11.2 23.6z"/><path d="M1824.3 565.9l11.2 -23.6l11.2 23.6z"/><path d="M1833.8 565.5l11.2 -23.6l11.2 23.6z"/><path d="M1843.3 565l11.2 -23.6l11.2 23.6z"/><path d="M1852.8 564.6l11.2 -23.6l11.2 23.6z"/><path d="M1862.3 564.2l11.2 -23.6l11.2 23.6z"/><path d="M1871.8 563.8l11.2 -23.6l11.2 23.6z"/><path d="M1881.3 563.4l11.2 -23.6l11.2 23.6z"/><path d="M1890.8 563l11.2 -23.6l11.2 23.6z"/><path d="M1900.3 562.6l11.2 -23.6l11.2 23.6z"/></g>
<g fill="#008000" stroke="none" stroke-width="0"><path d="M157.8 1078.7l17.5 -17.5l17.5 17.5l-17.5 17.5z"/><path d="M162.9 1051.3l17.5 -17.5l17.5 17.5l-17.5 17.5z"/><path d="M165 1011l17.5 -17.5l17.5 17.5l-17.5 17.5z"/><path d="M175.5 1000l17.5 -17.5l17.5 17.5l-17.5 17.5z"/><path d="M185 990.7l17.5 -17.5l17.5 17.5l-17.5 17.5z"/><path d="M194.5 972.7l17.5 -17.5l17.5 17.5l-17.5 17.5z"/><path d="M204 951.8l17.5 -17.5l17.5 17.5l-17.5 17.5z"/><path d="M213.5 930.9l17.5 -17.5l17.5 17.5l-17.5 17.5z"/><path d="M223 907.4l17.5 -17.5l17.5 17.5l-17.5 17.5z"/><path d="M232.5 880.4l17.5 -17.5l17.5 17.5l-17.5 17.5z"/><path d="M241.9 846.6l17.5 -17.5l17.5 17.5l-17.5 17.5z"/><path d="M251.4 814.7l17.5 -17.5l17.5 17.5l-17.5 17.5z"/><path d="M260.9 776.3l17.5 -17.5l17.5 17.5l-17.5 17.5z"/><path d="M270.4 750.1l17.5 -17.5l17.5 17.5l-17.5 17.5z"/><path d="M279.9 720.5l17.5 -17.5l17.5 17.5l-17.5 17.5z"/><path d="M289.4 694.5l17.5 -17.5l17.5 17.5l-17.5 17.5z"/><path d="M298.9 672.4l17.5 -17.5l17.5 17.5l-17.5 17.5z"/><path d="M308.4 651.5l17.5 -17.5l17.5 17.5l-17.5 17.5z"/><path d="M317.9 630.4l17.5 -17.5l17.5 17.5l-17.5 17.5z"/><path d="M327.4 610.7l17.5 -17.5l17.5 17.5l-17.5 17.5z"/><path d="M336.9 594.5l17.5 -17.5l17.5 17.5l-17.5 17.5z"/><path d="M346.4 578.7l17.5 -17.5l17.5 17.5l-17.5 17.5z"/><path d="M355.9 564.3l17.5 -17.5l17.5 17.5l-17.5 17.5z"/><path d="M365.4 550.9l17.5 -17.5l17.5 17.5l-17.5 17.5z"/><path d="M374.9 538.5l17.5 -17.5l17.5 17.5l-17.5 17.5z"/><path d="M384.4 527.5l17.5 -17.5l17.5 17.5l-17.5 17.5z"/><path d="M393.9 517.6l17.5 -17.5l17.5 17.5l-17.5 17.5z"/><path d="M403.4 508.7l17.5 -17.5l17.5 17.5l-17.5 17.5z"/><path d="M412.8 500.6l17.5 -17.5l17.5 17.5l-17.5 17.5z"/><path d="M422.3 493l17.5 -17.5l17.5 17.5l-17.5 17.5z"/><path d="M431.8 485.9l17.5 -17.5l17.5 17.5l-17.5 17.5z"/><path d="M441.3 479.4l17.5 -17.5l17.5 17.5l-17.5 17.5z"/><path d="M450.8 473.4l17.5 -17.5l17.5 17.5l-17.5 17.5z"/><path d="M460.3 467.8l17.5 -17.5l17.5 17.5l-17.5 17.5z"/><path d="M465.1 465.1l17.5 -17.5l17.5 17.5l-17.5 17.5z"/><path d="M469.8 462.4l17.5 -17.5l17.5 17.5l-17.5 17.5z"/><path d="M474.6 459.7l17.5 -17.5l17.5 17.5l-17.5 17.5z"/><path d="M479.3 456.9l17.5 -17.5l17.5 17.5l-17.5 17.5z"/><path d="M484.1 454.2l17.5 -17.5l17.5 17.5l-17.5 17.5z"/><path d="M488.8 451.5l17.5 -17.5l17.5 17.5l-17.5 17.5z"/><path d="M493.6 448.8l17.5 -17.5l17.5 17.5l-17.5 17.5z"/><path d="M498.3 446.2l17.5 -17.5l17.5 17.5l-17.5 17.5z"/><path d="M503 443.6l17.5 -17.5l17.5 17.5l-17.5 17.5z"/><path d="M507.8 441.1l17.5 -17.5l17.5 17.5l-17.5 17.5z"/><path d="M512.5 438.7l17.5 -17.5l17.5 17.5l-17.5 17.5z"/><path d="M517.3 436.4l17.5 -17.5l17.5 17.5l-17.5 17.5z"/><path d="M522 434.2l17.5 -17.5l17.5 17.5l-17.5 17.5z"/><path d="M526.8 432l17.5 -17.5l17.5 17.5l-17.5 17.5z"/><path d="M531.5 429.8l17.5 -17.5l17.5 17.5l-17.5 17.5z"/><path d="M536.3 427.8l17.5 -17.5l17.5 17.5l-17.5 17.5z"/><path d="M541 425.8l17.5 -17.5l17.5 17.5l-17.5 17.5z"/><path d="M545.8 423.9l17.5 -17.5l17.5 17.5l-17.5 17.5z"/><path d="M550.5 422.1l17.5 -17.5l17.5 17.5l-17.5 17.5z"/><path d="M555.3 420.3l17.5 -17.5l17.5 17.5l-17.5 17.5z"/><path d="M560 418.6l17.5 -17.5l17.5 17.5l-17.5 17.5z"/><path d="M564.8 416.9l17.5 -17.5l17.5 17.5l-17.5 17.5z"/><path d="M569.5 415.3l17.5 -17.5l17.5 17.5l-17.5 17.5z"/><path d="M574.3 413.7l17.5 -17.5l17.5 17.5l-17.5 17.5z"/><path d="M579 412.1l17.5 -17.5l17.5 17.5l-17.5 17.5z"/><path d="M583.8 410.6l17.5 -17.5l17.5 17.5l-17.5 17.5z"/><path d="M588.5 409l17.5 -17.5l17.5 17.5l-17.5 17.5z"/><path d="M593.2 407.5l17.5 -17.5l17.5 17.5l-17.5 17.5z"/><path d="M598 406.1l17.5 -17.5l17.5 17.5l-17.5 17.5z"/><path d="M602.7 404.6l17.5 -17.5l17.5 17.5l-17.5 17.5z"/><path d="M607.5 403.2l17.5 -17.5l17.5 17.5l-17.5 17.5z"/><path d="M612.2 401.8l17.5 -17.5l17.5 17.5l-17.5 17.5z"/><path d="M617 400.5l17.5 -17.5l17.5 17.5l-17.5 17.5z"/><path d="M621.7 399.1l17.5 -17.5l17.5 17.5l-17.5 17.5z"/><path d="M626.5 397.8l17.5 -17.5l17.5 17.5l-17.5 17.5z"/><path d="M631.2 396.5l17.5 -17.5l17.5 17.5l-17.5 17.5z"/><path d="M636 395.3l17.5 -17.5l17.5 17.5l-17.5 17.5z"/><path d="M640.7 394l17.5 -17.5l17.5 17.5l-17.5 17.5z"/><path d="M645.5 392.8l17.5 -17.5l17.5 17.5l-17.5 17.5z"/><path d="M650.2 391.6l17.5 -17.5l17.5 17.5l-17.5 17.5z"/><path d="M655 390.4l17.5 -17.5l17.5 17.5l-17.5 17.5z"/><path d="M659.7 389.2l17.5 -17.5l17.5 17.5l-17.5 17.5z"/><path d="M664.5 388.1l17.5 -17.5l17.5 17.5l-17.5 17.5z"/><path d="M669.2 386.9l17.5 -17.5l17.5 17.5l-17.5 17.5z"/><path d="M673.9 385.8l17.5 -17.5l17.5 17.5l-17.5 17.5z"/><path d="M678.7 384.7l17.5 -17.5l17.5 17.5l-17.5 17.5z"/><path d="M683.4 383.6l17.5 -17.5l17.5 17.5l-17.5 17.5z"/><path d="M688.2 382.5l17.5 -17.5l17.5 17.5l-17.5 17.5z"/><path d="M692.9 381.5l17.5 -17.5l17.5 17.5l-17.5 17.5z"/><path d="M697.7 380.4l17.5 -17.5l17.5 17.5l-17.5 17.5z"/><path d="M702.4 379.4l17.5 -17.5l17.5 17.5l-17.5 17.5z"/><path d="M707.2 378.4l17.5 -17.5l17.5 17.5l-17.5 17.5z"/><path d="M711.9 377.4l17.5 -17.5l17.5 17.5l-17.5 17.5z"/><path d="M716.7 376.5l17.5 -17.5l17.5 17.5l-17.5 17.5z"/><path d="M721.4 375.5l17.5 -17.5l17.5 17.5l-17.5 17.5z"/><path d="M726.2 374.6l17.5 -17.5l17.5 17.5l-17.5 17.5z"/><path d="M730.9 373.7l17.5 -17.5l17.5 17.5l-17.5 17.5z"/><path d="M735.7 372.8l17.5 -17.5l17.5 17.5l-17.5 17.5z"/><path d="M740.4 371.9l17.5 -17.5l17.5 17.5l-17.5 17.5z"/><path d="M745.2 371l17.5 -17.5l17.5 17.5l-17.5 17.5z"/><path d="M749.9 370.2l17.5 -17.5l17.5 17.5l-17.5 17.5z"/><path d="M754.6 369.4l17.5 -17.5l17.5 17.5l-17.5 17.5z"/><path d="M759.4 368.6l17.5 -17.5l17.5 17.5l-17.5 17.5z"/><path d="M764.1 367.8l17.5 -17.5l17.5 17.5l-17.5 17.5z"/><path d="M768.9 367.1l17.5 -17.5l17.5 17.5l-17.5 17.5z"/><path d="M773.6 366.3l17.5 -17.5l17.5 17.5l-17.5 17.5z"/><path d="M778.4 365.6l17.5 -17.5l17.5 17.5l-17.5 17.5z"/><path d="M783.1 364.9l17.5 -17.5l17.5 17.5l-17.5 17.5z"/><path d="M787.9 364.2l17.5 -17.5l17.5 17.5l-17.5 17.5z"/><path d="M792.6 363.5l17.5 -17.5l17.5 17.5l-17.5 17.5z"/><path d="M797.4 362.8l17.5 -17.5l17.5 17.5l-17.5 17.5z"/><path d="M802.1 362.1l17.5 -17.5l17.5 17.5l-17.5 17.5z"/><path d="M806.9 361.5l17.5 -17.5l17.5 17.5l-17.5 17.5z"/><path d="M811.6 360.8l17.5 -17.5l17.5 17.5l-17.5 17.5z"/><path d="M816.4 360.2l17.5 -17.5l17.5 17.5l-17.5 17.5z"/><path d="M821.1 359.6l17.5 -17.5l17.5 17.5l-17.5 17.5z"/><path d="M825.9 358.9l17.5 -17.5l17.5 17.5l-17.5 17.5z"/><path d="M830.6 358.3l17.5 -17.5l17.5 17.5l-17.5 17.5z"/><path d="M835.4 357.7l17.5 -17.5l17.5 17.5l-17.5 17.5z"/><path d="M840.1 357.1l17.5 -17.5l17.5 17.5l-17.5 17.5z"/><path d="M844.8 356.5l17.5 -17.5l17.5 17.5l-17.5 17.5z"/><path d="M849.6 356l17.5 -17.5l17.5 17.5l-17.5 17.5z"/><path d="M854.3 355.4l17.5 -17.5l17.5 17.5l-17.5 17.5z"/><path d="M859.1 354.8l17.5 -17.5l17.5 17.5l-17.5 17.5z"/><path d="M863.8 354.2l17.5 -17.5l17.5 17.5l-17.5 17.5z"/><path d="M868.6 353.7l17.5 -17.5l17.5 17.5l-17.5 17.5z"/><path d="M873.3 353.1l17.5 -17.5l17.5 17.5l-17.5 17.5z"/><path d="M878.1 352.6l17.5 -17.5l17.5 17.5l-17.5 17.5z"/><path d="M882.8 352.1l17.5 -17.5l17.5 17.5l-17.5 17.5z"/><path d="M887.6 351.5l17.5 -17.5l17.5 17.5l-17.5 17.5z"/><path d="M892.3 351l17.5 -17.5l17.5 17.5l-17.5 17.5z"/><path d="M897.1 350.5l17.5 -17.5l17.5 17.5l-17.5 17.5z"/><path d="M901.8 350l17.5 -17.5l17.5 17.5l-17.5 17.5z"/><path d="M906.6 349.5l17.5 -17.5l17.5 17.5l-17.5 17.5z"/><path d="M911.3 349l17.5 -17.5l17.5 17.5l-17.5 17.5z"/><path d="M916.1 348.5l17.5 -17.5l17.5 17.5l-17.5 17.5z"/><path d="M920.8 348l17.5 -17.5l17.5 17.5l-17.5 17.5z"/><path d="M925.5 347.6l17.5 -17.5l17.5 17.5l-17.5 17.5z"/><path d="M930.3 347.1l17.5 -17.5l17.5 17.5l-17.5 17.5z"/><path d="M935 346.6l17.5 -17.5l17.5 17.5l-17.5 17.5z"/><path d="M939.8 346.1l17.5 -17.5l17.5 17.5l-17.5 17.5z"/><path d="M944.5 345.6l17.5 -17.5l17.5 17.5l-17.5 17.5z"/><path d="M949.3 345.1l17.5 -17.5l17.5 17.5l-17.5 17.5z"/><path d="M954 344.6l17.5 -17.5l17.5 17.5l-17.5 17.5z"/><path d="M958.8 344.2l17.5 -17.5l17.5 17.5l-17.5 17.5z"/><path d="M963.5 343.7l17.5 -17.5l17.5 17.5l-17.5 17.5z"/><path d="M968.3 343.2l17.5 -17.5l17.5 17.5l-17.5 17.5z"/><path d="M973 342.7l17.5 -17.5l17.5 17.5l-17.5 17.5z"/><path d="M977.8 342.2l17.5 -17.5l17.5 17.5l-17.5 17.5z"/><path d="M982.5 341.7l17.5 -17.5l17.5 17.5l-17.5 17.5z"/><path d="M987.3 341.2l17.5 -17.5l17.5 17.5l-17.5 17.5z"/><path d="M992 340.7l17.5 -17.5l17.5 17.5l-17.5 17.5z"/><path d="M996.8 340.2l17.5 -17.5l17.5 17.5l-17.5 17.5z"/><path d="M1001.5 339.8l17.5 -17.5l17.5 17.5l-17.5 17.5z"/><path d="M1006.3 339.3l17.5 -17.5l17.5 17.5l-17.5 17.5z"/><path d="M1011 338.8l17.5 -17.5l17.5 17.5l-17.5 17.5z"/><path d="M1015.7 338.3l17.5 -17.5l17.5 17.5l-17.5 17.5z"/><path d="M1020.5 337.9l17.5 -17.5l17.5 17.5l-17.5 17.5z"/><path d="M1025.2 337.4l17.5 -17.5l17.5 17.5l-17.5 17.5z"/><path d="M1030 336.9l17.5 -17.5l17.5 17.5l-17.5 17.5z"/><path d="M1034.7 336.5l17.5 -17.5l17.5 17.5l-17.5 17.5z"/><path d="M1039.5 336l17.5 -17.5l17.5 17.5l-17.5 17.5z"/><path d="M1044.2 335.6l17.5 -17.5l17.5 17.5l-17.5 17.5z"/><path d="M1049 335.2l17.5 -17.5l17.5 17.5l-17.5 17.5z"/><path d="M1053.7 334.7l17.5 -17.5l17.5 17.5l-17.5 17.5z"/><path d="M1058.5 334.3l17.5 -17.5l17.5 17.5l-17.5 17.5z"/><path d="M1063.2 333.9l17.5 -17.5l17.5 17.5l-17.5 17.5z"/><path d="M1068 333.5l17.5 -17.5l17.5 17.5l-17.5 17.5z"/><path d="M1072.7 333.1l17.5 -17.5l17.5 17.5l-17.5 17.5z"/><path d="M1077.5 332.7l17.5 -17.5l17.5 17.5l-17.5 17.5z"/><path d="M1082.2 332.2l17.5 -17.5l17.5 17.5l-17.5 17.5z"/><path d="M1087 331.8l17.5 -17.5l17.5 17.5l-17.5 17.5z"/><path d="M1091.7 331.4l17.5 -17.5l17.5 17.5l-17.5 17.5z"/><path d="M1096.4 331l17.5 -17.5l17.5 17.5l-17.5 17.5z"/><path d="M1101.2 330.7l17.5 -17.5l17.5 17.5l-17.5 17.5z"/><path d="M1105.9 330.3l17.5 -17.5l17.5 17.5l-17.5 17.5z"/><path d="M1110.7 329.9l17.5 -17.5l17.5 17.5l-17.5 17.5z"/><path d="M1115.4 329.5l17.5 -17.5l17.5 17.5l-17.5 17.5z"/><path d="M1120.2 329.1l17.5 -17.5l17.5 17.5l-17.5 17.5z"/><path d="M1124.9 328.8l17.5 -17.5l17.5 17.5l-17.5 17.5z"/><path d="M1129.7 328.4l17.5 -17.5l17.5 17.5l-17.5 17.5z"/><path d="M1134.4 328l17.5 -17.5l17.5 17.5l-17.5 17.5z"/><path d="M1139.2 327.7l17.5 -17.5l17.5 17.5l-17.5 17.5z"/><path d="M1143.9 327.3l17.5 -17.5l17.5 17.5l-17.5 17.5z"/><path d="M1148.7 327l17.5 -17.5l17.5 17.5l-17.5 17.5z"/><path d="M1153.4 326.7l17.5 -17.5l17.5 17.5l-17.5 17.5z"/><path d="M1158.2 326.3l17.5 -17.5l17.5 17.5l-17.5 17.5z"/><path d="M1162.9 326l17.5 -17.5l17.5 17.5l-17.5 17.5z"/><path d="M1167.7 325.7l17.5 -17.5l17.5 17.5l-17.5 17.5z"/><path d="M1172.4 325.4l17.5 -17.5l17.5 17.5l-17.5 17.5z"/><path d="M1177.2 325.1l17.5 -17.5l17.5 17.5l-17.5 17.5z"/><path d="M1181.9 324.8l17.5 -17.5l17.5 17.5l-17.5 17.5z"/><path d="M1186.6 324.5l17.5 -17.5l17.5 17.5l-17.5 17.5z"/><path d="M1191.4 324.2l17.5 -17.5l17.5 17.5l-17.5 17.5z"/><path d="M1196.1 323.9l17.5 -17.5l17.5 17.5l-17.5 17.5z"/><path d="M1200.9 323.6l17.5 -17.5l17.5 17.5l-17.5 17.5z"/><path d="M1205.6 323.4l17.5 -17.5l17.5 17.5l-17.5 17.5z"/><path d="M1210.4 323.1l17.5 -17.5l17.5 17.5l-17.5 17.5z"/><path d="M1215.1 322.8l17.5 -17.5l17.5 17.5l-17.5 17.5z"/><path d="M1219.9 322.5l17.5 -17.5l17.5 17.5l-17.5 17.5z"/><path d="M1224.6 322.3l17.5 -17.5l17.5 17.5l-17.5 17.5z"/><path d="M1229.4 322l17.5 -17.5l17.5 17.5l-17.5 17.5z"/><path d="M1234.1 321.7l17.5 -17.5l17.5 17.5l-17.5 17.5z"/><path d="M1238.9 321.5l17.5 -17.5l17.5 17.5l-17.5 17.5z"/><path d="M1243.6 321.2l17.5 -17.5l17.5 17.5l-17.5 17.5z"/><path d="M1248.4 320.9l17.5 -17.5l17.5 17.5l-17.5 17.5z"/><path d="M1253.1 320.6l17.5 -17.5l17.5 17.5l-17.5 17.5z"/><path d="M1257.9 320.4l17.5 -17.5l17.5 17.5l-17.5 17.5z"/><path d="M1262.6 320.1l17.5 -17.5l17.5 17.5l-17.5 17.5z"/><path d="M1267.3 319.8l17.5 -17.5l17.5 17.5l-17.5 17.5z"/><path d="M1272.1 319.5l17.5 -17.5l17.5 17.5l-17.5 17.5z"/><path d="M1276.8 319.3l17.5 -17.5l17.5 17.5l-17.5 17.5z"/><path d="M1281.6 319l17.5 -17.5l17.5 17.5l-17.5 17.5z"/><path d="M1286.3 318.7l17.5 -17.5l17.5 17.5l-17.5 17.5z"/><path d="M1291.1 318.4l17.5 -17.5l17.5 17.5l-17.5 17.5z"/><path d="M1295.8 318.2l17.5 -17.5l17.5 17.5l-17.5 17.5z"/><path d="M1300.6 317.9l17.5 -17.5l17.5 17.5l-17.5 17.5z"/><path d="M1305.3 317.6l17.5 -17.5l17.5 17.5l-17.5 17.5z"/><path d="M1310.1 317.3l17.5 -17.5l17.5 17.5l-17.5 17.5z"/><path d="M1314.8 317.1l17.5 -17.5l17.5 17.5l-17.5 17.5z"/><path d="M1319.6 316.8l17.5 -17.5l17.5 17.5l-17.5 17.5z"/><path d="M1324.3 316.6l17.5 -17.5l17.5 17.5l-17.5 17.5z"/><path d="M1329.1 316.3l17.5 -17.5l17.5 17.5l-17.5 17.5z"/><path d="M1333.8 316l17.5 -17.5l17.5 17.5l-17.5 17.5z"/><path d="M1338.6 315.8l17.5 -17.5l17.5 17.5l-17.5 17.5z"/><path d="M1343.3 315.6l17.5 -17.5l17.5 17.5l-17.5 17.5z"/><path d="M1348.1 315.3l17.5 -17.5l17.5 17.5l-17.5 17.5z"/><path d="M1352.8 315.1l17.5 -17.5l17.5 17.5l-17.5 17.5z"/><path d="M1357.5 314.9l17.5 -17.5l17.5 17.5l-17.5 17.5z"/><path d="M1362.3 314.6l17.5 -17.5l17.5 17.5l-17.5 17.5z"/><path d="M1367 314.4l17.5 -17.5l17.5 17.5l-17.5 17.5z"/><path d="M1371.8 314.2l17.5 -17.5l17.5 17.5l-17.5 17.5z"/><path d="M1376.5 314l17.5 -17.5l17.5 17.5l-17.5 17.5z"/><path d="M1381.3 313.7l17.5 -17.5l17.5 17.5l-17.5 17.5z"/><path d="M1386 313.5l17.5 -17.5l17.5 17.5l-17.5 17.5z"/><path d="M1390.8 313.3l17.5 -17.5l17.5 17.5l-17.5 17.5z"/><path d="M1395.5 313.1l17.5 -17.5l17.5 17.5l-17.5 17.5z"/><path d="M1400.3 312.8l17.5 -17.5l17.5 17.5l-17.5 17.5z"/><path d="M1405 312.6l17.5 -17.5l17.5 17.5l-17.5 17.5z"/><path d="M1409.8 312.4l17.5 -17.5l17.5 17.5l-17.5 17.5z"/><path d="M1414.5 312.2l17.5 -17.5l17.5 17.5l-17.5 17.5z"/><path d="M1419.3 312l17.5 -17.5l17.5 17.5l-17.5 17.5z"/><path d="M1424 311.8l17.5 -17.5l17.5 17.5l-17.5 17.5z"/><path d="M1428.8 311.6l17.5 -17.5l17.5 17.5l-17.5 17.5z"/><path d="M1433.5 311.4l17.5 -17.5l17.5 17.5l-17.5 17.5z"/><path d="M1438.2 311.2l17.5 -17.5l17.5 17.5l-17.5 17.5z"/><path d="M1443 311l17.5 -17.5l17.5 17.5l-17.5 17.5z"/><path d="M1447.7 310.8l17.5 -17.5l17.5 17.5l-17.5 17.5z"/><path d="M1452.5 310.6l17.5 -17.5l17.5 17.5l-17.5 17.5z"/><path d="M1457.2 310.4l17.5 -17.5l17.5 17.5l-17.5 17.5z"/><path d="M1462 310.2l17.5 -17.5l17.5 17.5l-17.5 17.5z"/><path d="M1466.7 310l17.5 -17.5l17.5 17.5l-17.5 17.5z"/><path d="M1471.5 309.8l17.5 -17.5l17.5 17.5l-17.5 17.5z"/><path d="M1476.2 309.6l17.5 -17.5l17.5 17.5l-17.5 17.5z"/><path d="M1481 309.4l17.5 -17.5l17.5 17.5l-17.5 17.5z"/><path d="M1485.7 309.2l17.5 -17.5l17.5 17.5l-17.5 17.5z"/><path d="M1490.5 309l17.5 -17.5l17.5 17.5l-17.5 17.5z"/><path d="M1495.2 308.8l17.5 -17.5l17.5 17.5l-17.5 17.5z"/><path d="M1500 308.7l17.5 -17.5l17.5 17.5l-17.5 17.5z"/><path d="M1504.7 308.5l17.5 -17.5l17.5 17.5l-17.5 17.5z"/><path d="M1509.5 308.3l17.5 -17.5l17.5 17.5l-17.5 17.5z"/><path d="M1514.2 308.1l17.5 -17.5l17.5 17.5l-17.5 17.5z"/><path d="M1519 307.9l17.5 -17.5l17.5 17.5l-17.5 17.5z"/><path d="M1523.7 307.8l17.5 -17.5l17.5 17.5l-17.5 17.5z"/><path d="M1528.4 307.6l17.5 -17.5l17.5 17.5l-17.5 17.5z"/><path d="M1533.2 307.4l17.5 -17.5l17.5 17.5l-17.5 17.5z"/><path d="M1537.9 307.3l17.5 -17.5l17.5 17.5l-17.5 17.5z"/><path d="M1542.7 307.1l17.5 -17.5l17.5 17.5l-17.5 17.5z"/><path d="M1547.4 307l17.5 -17.5l17.5 17.5l-17.5 17.5z"/><path d="M1552.2 306.8l17.5 -17.5l17.5 17.5l-17.5 17.5z"/><path d="M1556.9 306.7l17.5 -17.5l17.5 17.5l-17.5 17.5z"/><path d="M1561.7 306.5l17.5 -17.5l17.5 17.5l-17.5 17.5z"/><path d="M1566.4 306.4l17.5 -17.5l17.5 17.5l-17.5 17.5z"/><path d="M1571.2 306.2l17.5 -17.5l17.5 17.5l-17.5 17.5z"/><path d="M1575.9 306.1l17.5 -17.5l17.5 17.5l-17.5 17.5z"/><path d="M1580.7 305.9l17.5 -17.5l17.5 17.5l-17.5 17.5z"/><path d="M1585.4 305.8l17.5 -17.5l17.5 17.5l-17.5 17.5z"/><path d="M1590.2 305.7l17.5 -17.5l17.5 17.5l-17.5 17.5z"/><path d="M1594.9 305.5l17.5 -17.5l17.5 17.5l-17.5 17.5z"/><path d="M1599.7 305.4l17.5 -17.5l17.5 17.5l-17.5 17.5z"/><path d="M1604.4 305.3l17.5 -17.5l17.5 17.5l-17.5 17.5z"/><path d="M1609.1 305.2l17.5 -17.5l17.5 17.5l-17.5 17.5z"/><path d="M1613.9 305l17.5 -17.5l17.5 17.5l-17.5 17.5z"/><path d="M1618.6 304.9l17.5 -17.5l17.5 17.5l-17.5 17.5z"/><path d="M1623.4 304.8l17.5 -17.5l17.5 17.5l-17.5 17.5z"/><path d="M1628.1 304.7l17.5 -17.5l17.5 17.5l-17.5 17.5z"/><path d="M1632.9 304.6l17.5 -17.5l17.5 17.5l-17.5 17.5z"/><path d="M1637.6 304.4l17.5 -17.5l17.5 17.5l-17.5 17.5z"/><path d="M1642.4 304.3l17.5 -17.5l17.5 17.5l-17.5 17.5z"/><path d="M1647.1 304.2l17.5 -17.5l17.5 17.5l-17.5 17.5z"/><path d="M1651.9 304.1l17.5 -17.5l17.5 17.5l-17.5 17.5z"/><path d="M1656.6 304l17.5 -17.5l17.5 17.5l-17.5 17.5z"/><path d="M1661.4 303.9l17.5 -17.5l17.5 17.5l-17.5 17.5z"/><path d="M1666.1 303.7l17.5 -17.5l17.5 17.5l-17.5 17.5z"/><path d="M1670.9 303.6l17.5 -17.5l17.5 17.5l-17.5 17.5z"/><path d="M1675.6 303.5l17.5 -17.5l17.5 17.5l-17.5 17.5z"/><path d="M1680.4 303.4l17.5 -17.5l17.5 17.5l-17.5 17.5z"/><path d="M1685.1 303.3l17.5 -17.5l17.5 17.5l-17.5 17.5z"/><path d="M1689.9 303.2l17.5 -17.5l17.5 17.5l-17.5 17.5z"/><path d="M1694.6 303.1l17.5 -17.5l17.5 17.5l-17.5 17.5z"/><path d="M1699.3 303l17.5 -17.5l17.5 17.5l-17.5 17.5z"/><path d="M1704.1 302.8l17.5 -17.5l17.5 17.5l-17.5 17.5z"/><path d="M1708.8 302.7l17.5 -17.5l17.5 17.5l-17.5 17.5z"/><path d="M1713.6 302.6l17.5 -17.5l17.5 17.5l-17.5 17.5z"/><path d="M1718.3 302.5l17.5 -17.5l17.5 17.5l-17.5 17.5z"/><path d="M1723.1 302.4l17.5 -17.5l17.5 17.5l-17.5 17.5z"/><path d="M1727.8 302.2l17.5 -17.5l17.5 17.5l-17.5 17.5z"/><path d="M1732.6 302.1l17.5 -17.5l17.5 17.5l-17.5 17.5z"/><path d="M1737.3 302l17.5 -17.5l17.5 17.5l-17.5 17.5z"/><path d="M1742.1 301.9l17.5 -17.5l17.5 17.5l-17.5 17.5z"/><path d="M1746.8 301.8l17.5 -17.5l17.5 17.5l-17.5 17.5z"/><path d="M1751.6 301.6l17.5 -17.5l17.5 17.5l-17.5 17.5z"/><path d="M1756.3 301.5l17.5 -17.5l17.5 17.5l-17.5 17.5z"/><path d="M1761.1 301.4l17.5 -17.5l17.5 17.5l-17.5 17.5z"/><path d="M1765.8 301.2l17.5 -17.5l17.5 17.5l-17.5 17.5z"/><path d="M1770.6 301.1l17.5 -17.5l17.5 17.5l-17.5 17.5z"/><path d="M1775.3 301l17.5 -17.5l17.5 17.5l-17.5 17.5z"/><path d="M1780 300.8l17.5 -17.5l17.5 17.5l-17.5 17.5z"/><path d="M1784.8 300.7l17.5 -17.5l17.5 17.5l-17.5 17.5z"/><path d="M1789.5 300.6l17.5 -17.5l17.5 17.5l-17.5 17.5z"/><path d="M1794.3 300.4l17.5 -17.5l17.5 17.5l-17.5 17.5z"/><path d="M1799 300.3l17.5 -17.5l17.5 17.5l-17.5 17.5z"/><path d="M1803.8 300.2l17.5 -17.5l17.5 17.5l-17.5 17.5z"/><path d="M1808.5 300l17.5 -17.5l17.5 17.5l-17.5 17.5z"/><path d="M1813.3 299.9l17.5 -17.5l17.5 17.5l-17.5 17.5z"/><path d="M1818 299.8l17.5 -17.5l17.5 17.5l-17.5 17.5z"/><path d="M1822.8 299.6l17.5 -17.5l17.5 17.5l-17.5 17.5z"/><path d="M1827.5 299.5l17.5 -17.5l17.5 17.5l-17.5 17.5z"/><path d="M1832.3 299.4l17.5 -17.5l17.5 17.5l-17.5 17.5z"/><path d="M1837 299.2l17.5 -17.5l17.5 17.5l-17.5 17.5z"/><path d="M1841.8 299.1l17.5 -17.5l17.5 17.5l-17.5 17.5z"/><path d="M1846.5 299l17.5 -17.5l17.5 17.5l-17.5 17.5z"/><path d="M1851.3 298.8l17.5 -17.5l17.5 17.5l-17.5 17.5z"/><path d="M1856 298.7l17.5 -17.5l17.5 17.5l-17.5 17.5z"/><path d="M1860.8 298.5l17.5 -17.5l17.5 17.5l-17.5 17.5z"/><path d="M1865.5 298.4l17.5 -17.5l17.5 17.5l-17.5 17.5z"/><path d="M1870.2 298.3l17.5 -17.5l17.5 17.5l-17.5 17.5z"/><path d="M1875 298.1l17.5 -17.5l17.5 17.5l-17.5 17.5z"/><path d="M1879.7 298l17.5 -17.5l17.5 17.5l-17.5 17.5z"/><path d="M1884.5 297.8l17.5 -17.5l17.5 17.5l-17.5 17.5z"/><path d="M1889.2 297.7l17.5 -17.5l17.5 17.5l-17.5 17.5z"/><path d="M1894 297.6l17.5 -17.5l17.5 17.5l-17.5 17.5z"/></g>
<g fill="#fff" stroke="#008000" stroke-width="4.2"><path d="M162 851l15 -15l15 15l-15 15z"/><path d="M160 847l15 -15l15 15l-15 15z"/><path d="M159 843l15 -15l15 15l-15 15z"/><path d="M168.5 830l15 -15l15 15l-15 15z"/><path d="M178 816l15 -15l15 15l-15 15z"/><path d="M187.5 801.5l15 -15l15 15l-15 15z"/><path d="M197 787l15 -15l15 15l-15 15z"/><path d="M206.5 772.5l15 -15l15 15l-15 15z"/><path d="M216 756.6l15 -15l15 15l-15 15z"/><path d="M225.5 739.1l15 -15l15 15l-15 15z"/><path d="M235 721.1l15 -15l15 15l-15 15z"/><path d="M244.4 703.1l15 -15l15 15l-15 15z"/><path d="M253.9 685.1l15 -15l15 15l-15 15z"/><path d="M263.4 667.6l15 -15l15 15l-15 15z"/><path d="M272.9 650.1l15 -15l15 15l-15 15z"/><path d="M282.4 633.1l15 -15l15 15l-15 15z"/><path d="M291.9 617.6l15 -15l15 15l-15 15z"/><path d="M301.4 605.6l15 -15l15 15l-15 15z"/><path d="M310.9 595.1l15 -15l15 15l-15 15z"/><path d="M320.4 585.1l15 -15l15 15l-15 15z"/><path d="M329.9 575.1l15 -15l15 15l-15 15z"/><path d="M339.4 566.6l15 -15l15 15l-15 15z"/><path d="M348.9 559.6l15 -15l15 15l-15 15z"/><path d="M358.4 553.5l15 -15l15 15l-15 15z"/><path d="M367.9 547.6l15 -15l15 15l-15 15z"/><path d="M377.4 541.6l15 -15l15 15l-15 15z"/><path d="M386.9 535.7l15 -15l15 15l-15 15z"/><path d="M396.4 529.9l15 -15l15 15l-15 15z"/><path d="M405.9 524.8l15 -15l15 15l-15 15z"/><path d="M415.3 520l15 -15l15 15l-15 15z"/><path d="M424.8 515.5l15 -15l15 15l-15 15z"/><path d="M434.3 511.4l15 -15l15 15l-15 15z"/><path d="M443.8 507.6l15 -15l15 15l-15 15z"/><path d="M453.3 504l15 -15l15 15l-15 15z"/><path d="M462.8 500.7l15 -15l15 15l-15 15z"/></g>
<g fill="#fff" stroke="#008000" stroke-width="2.7"><path d="M466.6 499.1l16 -16l16 16l-16 16z"/><path d="M471.3 497.6l16 -16l16 16l-16 16z"/><path d="M476.1 496.1l16 -16l16 16l-16 16z"/><path d="M480.8 494.6l16 -16l16 16l-16 16z"/><path d="M485.6 493.1l16 -16l16 16l-16 16z"/><path d="M490.3 491.7l16 -16l16 16l-16 16z"/><path d="M495.1 490.3l16 -16l16 16l-16 16z"/><path d="M499.8 488.9l16 -16l16 16l-16 16z"/><path d="M504.5 487.6l16 -16l16 16l-16 16z"/><path d="M509.3 486.2l16 -16l16 16l-16 16z"/><path d="M514 484.9l16 -16l16 16l-16 16z"/><path d="M518.8 483.6l16 -16l16 16l-16 16z"/><path d="M523.5 482.3l16 -16l16 16l-16 16z"/><path d="M528.3 481l16 -16l16 16l-16 16z"/><path d="M533 479.7l16 -16l16 16l-16 16z"/><path d="M537.8 478.5l16 -16l16 16l-16 16z"/><path d="M542.5 477.3l16 -16l16 16l-16 16z"/><path d="M547.3 476.1l16 -16l16 16l-16 16z"/><path d="M552 474.9l16 -16l16 16l-16 16z"/><path d="M556.8 473.8l16 -16l16 16l-16 16z"/><path d="M561.5 472.7l16 -16l16 16l-16 16z"/><path d="M566.3 471.5l16 -16l16 16l-16 16z"/><path d="M571 470.4l16 -16l16 16l-16 16z"/><path d="M575.8 469.3l16 -16l16 16l-16 16z"/><path d="M580.5 468.2l16 -16l16 16l-16 16z"/><path d="M585.2 467.1l16 -16l16 16l-16 16z"/><path d="M590 466l16 -16l16 16l-16 16z"/><path d="M594.7 464.9l16 -16l16 16l-16 16z"/><path d="M599.5 463.9l16 -16l16 16l-16 16z"/><path d="M604.2 462.8l16 -16l16 16l-16 16z"/><path d="M609 461.8l16 -16l16 16l-16 16z"/><path d="M613.7 460.8l16 -16l16 16l-16 16z"/><path d="M618.5 459.8l16 -16l16 16l-16 16z"/><path d="M623.2 458.8l16 -16l16 16l-16 16z"/><path d="M628 457.9l16 -16l16 16l-16 16z"/><path d="M632.7 457l16 -16l16 16l-16 16z"/><path d="M637.5 456.1l16 -16l16 16l-16 16z"/><path d="M642.2 455.2l16 -16l16 16l-16 16z"/><path d="M647 454.4l16 -16l16 16l-16 16z"/><path d="M651.7 453.6l16 -16l16 16l-16 16z"/><path d="M656.5 452.9l16 -16l16 16l-16 16z"/><path d="M661.2 452.1l16 -16l16 16l-16 16z"/><path d="M666 451.4l16 -16l16 16l-16 16z"/><path d="M670.7 450.8l16 -16l16 16l-16 16z"/><path d="M675.4 450.1l16 -16l16 16l-16 16z"/><path d="M680.2 449.4l16 -16l16 16l-16 16z"/><path d="M684.9 448.8l16 -16l16 16l-16 16z"/><path d="M689.7 448.2l16 -16l16 16l-16 16z"/><path d="M694.4 447.6l16 -16l16 16l-16 16z"/><path d="M699.2 447l16 -16l16 16l-16 16z"/><path d="M703.9 446.4l16 -16l16 16l-16 16z"/><path d="M708.7 445.9l16 -16l16 16l-16 16z"/><path d="M713.4 445.3l16 -16l16 16l-16 16z"/><path d="M718.2 444.8l16 -16l16 16l-16 16z"/><path d="M722.9 444.2l16 -16l16 16l-16 16z"/><path d="M727.7 443.7l16 -16l16 16l-16 16z"/><path d="M732.4 443.2l16 -16l16 16l-16 16z"/><path d="M737.2 442.6l16 -16l16 16l-16 16z"/><path d="M741.9 442.1l16 -16l16 16l-16 16z"/><path d="M746.7 441.6l16 -16l16 16l-16 16z"/><path d="M751.4 441.1l16 -16l16 16l-16 16z"/><path d="M756.1 440.5l16 -16l16 16l-16 16z"/><path d="M760.9 440l16 -16l16 16l-16 16z"/><path d="M765.6 439.5l16 -16l16 16l-16 16z"/><path d="M770.4 439l16 -16l16 16l-16 16z"/><path d="M775.1 438.5l16 -16l16 16l-16 16z"/><path d="M779.9 438l16 -16l16 16l-16 16z"/><path d="M784.6 437.5l16 -16l16 16l-16 16z"/><path d="M789.4 437l16 -16l16 16l-16 16z"/><path d="M794.1 436.5l16 -16l16 16l-16 16z"/><path d="M798.9 436l16 -16l16 16l-16 16z"/><path d="M803.6 435.5l16 -16l16 16l-16 16z"/><path d="M808.4 435l16 -16l16 16l-16 16z"/><path d="M813.1 434.6l16 -16l16 16l-16 16z"/><path d="M817.9 434.1l16 -16l16 16l-16 16z"/><path d="M822.6 433.6l16 -16l16 16l-16 16z"/><path d="M827.4 433.2l16 -16l16 16l-16 16z"/><path d="M832.1 432.7l16 -16l16 16l-16 16z"/><path d="M836.9 432.3l16 -16l16 16l-16 16z"/><path d="M841.6 431.8l16 -16l16 16l-16 16z"/><path d="M846.3 431.4l16 -16l16 16l-16 16z"/><path d="M851.1 430.9l16 -16l16 16l-16 16z"/><path d="M855.8 430.5l16 -16l16 16l-16 16z"/><path d="M860.6 430l16 -16l16 16l-16 16z"/><path d="M865.3 429.6l16 -16l16 16l-16 16z"/><path d="M870.1 429.2l16 -16l16 16l-16 16z"/><path d="M874.8 428.7l16 -16l16 16l-16 16z"/><path d="M879.6 428.3l16 -16l16 16l-16 16z"/><path d="M884.3 427.9l16 -16l16 16l-16 16z"/><path d="M889.1 427.5l16 -16l16 16l-16 16z"/><path d="M893.8 427.1l16 -16l16 16l-16 16z"/><path d="M898.6 426.7l16 -16l16 16l-16 16z"/><path d="M903.3 426.2l16 -16l16 16l-16 16z"/><path d="M908.1 425.8l16 -16l16 16l-16 16z"/><path d="M912.8 425.4l16 -16l16 16l-16 16z"/><path d="M917.6 425l16 -16l16 16l-16 16z"/><path d="M922.3 424.6l16 -16l16 16l-16 16z"/><path d="M927 424.2l16 -16l16 16l-16 16z"/><path d="M931.8 423.8l16 -16l16 16l-16 16z"/><path d="M936.5 423.4l16 -16l16 16l-16 16z"/><path d="M941.3 423l16 -16l16 16l-16 16z"/><path d="M946 422.7l16 -16l16 16l-16 16z"/><path d="M950.8 422.3l16 -16l16 16l-16 16z"/><path d="M955.5 421.9l16 -16l16 16l-16 16z"/><path d="M960.3 421.5l16 -16l16 16l-16 16z"/><path d="M965 421.1l16 -16l16 16l-16 16z"/><path d="M969.8 420.7l16 -16l16 16l-16 16z"/><path d="M974.5 420.3l16 -16l16 16l-16 16z"/><path d="M979.3 419.9l16 -16l16 16l-16 16z"/><path d="M984 419.5l16 -16l16 16l-16 16z"/><path d="M988.8 419.1l16 -16l16 16l-16 16z"/><path d="M993.5 418.7l16 -16l16 16l-16 16z"/><path d="M998.3 418.3l16 -16l16 16l-16 16z"/><path d="M1003 417.9l16 -16l16 16l-16 16z"/><path d="M1007.8 417.5l16 -16l16 16l-16 16z"/><path d="M1012.5 417.2l16 -16l16 16l-16 16z"/><path d="M1017.2 416.8l16 -16l16 16l-16 16z"/><path d="M1022 416.4l16 -16l16 16l-16 16z"/><path d="M1026.7 416.1l16 -16l16 16l-16 16z"/><path d="M1031.5 415.7l16 -16l16 16l-16 16z"/><path d="M1036.2 415.3l16 -16l16 16l-16 16z"/><path d="M1041 415l16 -16l16 16l-16 16z"/><path d="M1045.7 414.7l16 -16l16 16l-16 16z"/><path d="M1050.5 414.3l16 -16l16 16l-16 16z"/><path d="M1055.2 414l16 -16l16 16l-16 16z"/><path d="M1060 413.7l16 -16l16 16l-16 16z"/><path d="M1064.7 413.4l16 -16l16 16l-16 16z"/><path d="M1069.5 413.1l16 -16l16 16l-16 16z"/><path d="M1074.2 412.8l16 -16l16 16l-16 16z"/><path d="M1079 412.5l16 -16l16 16l-16 16z"/><path d="M1083.7 412.2l16 -16l16 16l-16 16z"/><path d="M1088.5 411.9l16 -16l16 16l-16 16z"/><path d="M1093.2 411.7l16 -16l16 16l-16 16z"/><path d="M1097.9 411.4l16 -16l16 16l-16 16z"/><path d="M1102.7 411.1l16 -16l16 16l-16 16z"/><path d="M1107.4 410.8l16 -16l16 16l-16 16z"/><path d="M1112.2 410.6l16 -16l16 16l-16 16z"/><path d="M1116.9 410.3l16 -16l16 16l-16 16z"/><path d="M1121.7 410.1l16 -16l16 16l-16 16z"/><path d="M1126.4 409.8l16 -16l16 16l-16 16z"/><path d="M1131.2 409.6l16 -16l16 16l-16 16z"/><path d="M1135.9 409.3l16 -16l16 16l-16 16z"/><path d="M1140.7 409.1l16 -16l16 16l-16 16z"/><path d="M1145.4 408.9l16 -16l16 16l-16 16z"/><path d="M1150.2 408.6l16 -16l16 16l-16 16z"/><path d="M1154.9 408.4l16 -16l16 16l-16 16z"/><path d="M1159.7 408.2l16 -16l16 16l-16 16z"/><path d="M1164.4 408l16 -16l16 16l-16 16z"/><path d="M1169.2 407.8l16 -16l16 16l-16 16z"/><path d="M1173.9 407.6l16 -16l16 16l-16 16z"/><path d="M1178.7 407.4l16 -16l16 16l-16 16z"/><path d="M1183.4 407.2l16 -16l16 16l-16 16z"/><path d="M1188.1 407l16 -16l16 16l-16 16z"/><path d="M1192.9 406.9l16 -16l16 16l-16 16z"/><path d="M1197.6 406.7l16 -16l16 16l-16 16z"/><path d="M1202.4 406.5l16 -16l16 16l-16 16z"/><path d="M1207.1 406.3l16 -16l16 16l-16 16z"/><path d="M1211.9 406.2l16 -16l16 16l-16 16z"/><path d="M1216.6 406l16 -16l16 16l-16 16z"/><path d="M1221.4 405.8l16 -16l16 16l-16 16z"/><path d="M1226.1 405.7l16 -16l16 16l-16 16z"/><path d="M1230.9 405.5l16 -16l16 16l-16 16z"/><path d="M1235.6 405.4l16 -16l16 16l-16 16z"/><path d="M1240.4 405.2l16 -16l16 16l-16 16z"/><path d="M1245.1 405l16 -16l16 16l-16 16z"/><path d="M1249.9 404.8l16 -16l16 16l-16 16z"/><path d="M1254.6 404.7l16 -16l16 16l-16 16z"/><path d="M1259.4 404.5l16 -16l16 16l-16 16z"/><path d="M1264.1 404.3l16 -16l16 16l-16 16z"/><path d="M1268.8 404.1l16 -16l16 16l-16 16z"/><path d="M1273.6 403.9l16 -16l16 16l-16 16z"/><path d="M1278.3 403.7l16 -16l16 16l-16 16z"/><path d="M1283.1 403.5l16 -16l16 16l-16 16z"/><path d="M1287.8 403.3l16 -16l16 16l-16 16z"/><path d="M1292.6 403.1l16 -16l16 16l-16 16z"/><path d="M1297.3 403l16 -16l16 16l-16 16z"/><path d="M1302.1 402.8l16 -16l16 16l-16 16z"/><path d="M1306.8 402.6l16 -16l16 16l-16 16z"/><path d="M1311.6 402.4l16 -16l16 16l-16 16z"/><path d="M1316.3 402.2l16 -16l16 16l-16 16z"/><path d="M1321.1 402l16 -16l16 16l-16 16z"/><path d="M1325.8 401.8l16 -16l16 16l-16 16z"/><path d="M1330.6 401.6l16 -16l16 16l-16 16z"/><path d="M1335.3 401.4l16 -16l16 16l-16 16z"/><path d="M1340.1 401.3l16 -16l16 16l-16 16z"/><path d="M1344.8 401.1l16 -16l16 16l-16 16z"/><path d="M1349.6 400.9l16 -16l16 16l-16 16z"/><path d="M1354.3 400.8l16 -16l16 16l-16 16z"/><path d="M1359 400.6l16 -16l16 16l-16 16z"/><path d="M1363.8 400.5l16 -16l16 16l-16 16z"/><path d="M1368.5 400.3l16 -16l16 16l-16 16z"/><path d="M1373.3 400.2l16 -16l16 16l-16 16z"/><path d="M1378 400.1l16 -16l16 16l-16 16z"/><path d="M1382.8 399.9l16 -16l16 16l-16 16z"/><path d="M1387.5 399.8l16 -16l16 16l-16 16z"/><path d="M1392.3 399.6l16 -16l16 16l-16 16z"/><path d="M1397 399.5l16 -16l16 16l-16 16z"/><path d="M1401.8 399.4l16 -16l16 16l-16 16z"/><path d="M1406.5 399.2l16 -16l16 16l-16 16z"/><path d="M1411.3 399.1l16 -16l16 16l-16 16z"/><path d="M1416 399l16 -16l16 16l-16 16z"/><path d="M1420.8 398.8l16 -16l16 16l-16 16z"/><path d="M1425.5 398.7l16 -16l16 16l-16 16z"/><path d="M1430.3 398.6l16 -16l16 16l-16 16z"/><path d="M1435 398.5l16 -16l16 16l-16 16z"/><path d="M1439.7 398.3l16 -16l16 16l-16 16z"/><path d="M1444.5 398.2l16 -16l16 16l-16 16z"/><path d="M1449.2 398.1l16 -16l16 16l-16 16z"/><path d="M1454 398l16 -16l16 16l-16 16z"/><path d="M1458.7 397.8l16 -16l16 16l-16 16z"/><path d="M1463.5 397.7l16 -16l16 16l-16 16z"/><path d="M1468.2 397.6l16 -16l16 16l-16 16z"/><path d="M1473 397.5l16 -16l16 16l-16 16z"/><path d="M1477.7 397.4l16 -16l16 16l-16 16z"/><path d="M1482.5 397.3l16 -16l16 16l-16 16z"/><path d="M1487.2 397.1l16 -16l16 16l-16 16z"/><path d="M1492 397l16 -16l16 16l-16 16z"/><path d="M1496.7 396.9l16 -16l16 16l-16 16z"/><path d="M1501.5 396.8l16 -16l16 16l-16 16z"/><path d="M1506.2 396.7l16 -16l16 16l-16 16z"/><path d="M1511 396.6l16 -16l16 16l-16 16z"/><path d="M1515.7 396.5l16 -16l16 16l-16 16z"/><path d="M1520.5 396.3l16 -16l16 16l-16 16z"/><path d="M1525.2 396.2l16 -16l16 16l-16 16z"/><path d="M1529.9 396.1l16 -16l16 16l-16 16z"/><path d="M1534.7 396l16 -16l16 16l-16 16z"/><path d="M1539.4 395.9l16 -16l16 16l-16 16z"/><path d="M1544.2 395.8l16 -16l16 16l-16 16z"/><path d="M1548.9 395.7l16 -16l16 16l-16 16z"/><path d="M1553.7 395.6l16 -16l16 16l-16 16z"/><path d="M1558.4 395.5l16 -16l16 16l-16 16z"/><path d="M1563.2 395.4l16 -16l16 16l-16 16z"/><path d="M1567.9 395.3l16 -16l16 16l-16 16z"/><path d="M1572.7 395.1l16 -16l16 16l-16 16z"/><path d="M1577.4 395l16 -16l16 16l-16 16z"/><path d="M1582.2 394.9l16 -16l16 16l-16 16z"/><path d="M1586.9 394.8l16 -16l16 16l-16 16z"/><path d="M1591.7 394.7l16 -16l16 16l-16 16z"/><path d="M1596.4 394.6l16 -16l16 16l-16 16z"/><path d="M1601.2 394.5l16 -16l16 16l-16 16z"/><path d="M1605.9 394.4l16 -16l16 16l-16 16z"/><path d="M1610.6 394.3l16 -16l16 16l-16 16z"/><path d="M1615.4 394.2l16 -16l16 16l-16 16z"/><path d="M1620.1 394.1l16 -16l16 16l-16 16z"/><path d="M1624.9 394l16 -16l16 16l-16 16z"/><path d="M1629.6 393.9l16 -16l16 16l-16 16z"/><path d="M1634.4 393.8l16 -16l16 16l-16 16z"/><path d="M1639.1 393.7l16 -16l16 16l-16 16z"/><path d="M1643.9 393.6l16 -16l16 16l-16 16z"/><path d="M1648.6 393.5l16 -16l16 16l-16 16z"/><path d="M1653.4 393.4l16 -16l16 16l-16 16z"/><path d="M1658.1 393.3l16 -16l16 16l-16 16z"/><path d="M1662.9 393.2l16 -16l16 16l-16 16z"/><path d="M1667.6 393.1l16 -16l16 16l-16 16z"/><path d="M1672.4 393l16 -16l16 16l-16 16z"/><path d="M1677.1 392.9l16 -16l16 16l-16 16z"/><path d="M1681.9 392.8l16 -16l16 16l-16 16z"/><path d="M1686.6 392.7l16 -16l16 16l-16 16z"/><path d="M1691.4 392.6l16 -16l16 16l-16 16z"/><path d="M1696.1 392.5l16 -16l16 16l-16 16z"/><path d="M1700.8 392.4l16 -16l16 16l-16 16z"/><path d="M1705.6 392.3l16 -16l16 16l-16 16z"/><path d="M1710.3 392.2l16 -16l16 16l-16 16z"/><path d="M1715.1 392.2l16 -16l16 16l-16 16z"/><path d="M1719.8 392.1l16 -16l16 16l-16 16z"/><path d="M1724.6 392l16 -16l16 16l-16 16z"/><path d="M1729.3 391.9l16 -16l16 16l-16 16z"/><path d="M1734.1 391.8l16 -16l16 16l-16 16z"/><path d="M1738.8 391.7l16 -16l16 16l-16 16z"/><path d="M1743.6 391.7l16 -16l16 16l-16 16z"/><path d="M1748.3 391.6l16 -16l16 16l-16 16z"/><path d="M1753.1 391.5l16 -16l16 16l-16 16z"/><path d="M1757.8 391.4l16 -16l16 16l-16 16z"/><path d="M1762.6 391.4l16 -16l16 16l-16 16z"/><path d="M1767.3 391.3l16 -16l16 16l-16 16z"/><path d="M1772.1 391.2l16 -16l16 16l-16 16z"/><path d="M1776.8 391.2l16 -16l16 16l-16 16z"/><path d="M1781.5 391.1l16 -16l16 16l-16 16z"/><path d="M1786.3 391l16 -16l16 16l-16 16z"/><path d="M1791 390.9l16 -16l16 16l-16 16z"/><path d="M1795.8 390.9l16 -16l16 16l-16 16z"/><path d="M1800.5 390.8l16 -16l16 16l-16 16z"/><path d="M1805.3 390.7l16 -16l16 16l-16 16z"/><path d="M1810 390.7l16 -16l16 16l-16 16z"/><path d="M1814.8 390.6l16 -16l16 16l-16 16z"/><path d="M1819.5 390.6l16 -16l16 16l-16 16z"/><path d="M1824.3 390.5l16 -16l16 16l-16 16z"/><path d="M1829 390.4l16 -16l16 16l-16 16z"/><path d="M1833.8 390.4l16 -16l16 16l-16 16z"/><path d="M1838.5 390.3l16 -16l16 16l-16 16z"/><path d="M1843.3 390.3l16 -16l16 16l-16 16z"/><path d="M1848 390.2l16 -16l16 16l-16 16z"/><path d="M1852.8 390.2l16 -16l16 16l-16 16z"/><path d="M1857.5 390.1l16 -16l16 16l-16 16z"/><path d="M1862.3 390.1l16 -16l16 16l-16 16z"/><path d="M1867 390l16 -16l16 16l-16 16z"/><path d="M1871.7 389.9l16 -16l16 16l-16 16z"/><path d="M1876.5 389.9l16 -16l16 16l-16 16z"/><path d="M1881.2 389.9l16 -16l16 16l-16 16z"/><path d="M1886 389.8l16 -16l16 16l-16 16z"/><path d="M1890.7 389.8l16 -16l16 16l-16 16z"/><path d="M1895.5 389.7l16 -16l16 16l-16 16z"/></g>
</g>
<g fill="#000">
<text transform="translate(112.4,106.5) scale(.96,1)" text-anchor="end" font-size="75.5">10</text>
<text x="114.6" y="69.5" font-size="43">3</text>
<text transform="translate(112.4,330.6) scale(.96,1)" text-anchor="end" font-size="75.5">10</text>
<text x="114.6" y="293.6" font-size="43">2</text>
<text transform="translate(112.4,554.7) scale(.96,1)" text-anchor="end" font-size="75.5">10</text>
<text x="114.6" y="517.7" font-size="43">1</text>
<text transform="translate(112.4,778.8) scale(.96,1)" text-anchor="end" font-size="75.5">10</text>
<text x="114.6" y="741.8" font-size="43">0</text>
<text transform="translate(88.9,1002.9) scale(.96,1)" text-anchor="end" font-size="75.5">10</text>
<text x="88.8" y="965.9" font-size="43">−</text>
<text x="114.6" y="965.9" font-size="43">1</text>
<text transform="translate(88.9,1227.0) scale(.96,1)" text-anchor="end" font-size="75.5">10</text>
<text x="88.8" y="1190.0" font-size="43">−</text>
<text x="114.6" y="1190.0" font-size="43">2</text>
<text x="174.0" y="1296" text-anchor="middle" font-size="75.5">0</text>
<text x="458.8" y="1296" text-anchor="middle" font-size="75.5">1</text>
<text x="743.7" y="1296" text-anchor="middle" font-size="75.5">2</text>
<text x="1028.5" y="1296" text-anchor="middle" font-size="75.5">3</text>
<text x="1313.3" y="1296" text-anchor="middle" font-size="75.5">4</text>
<text x="1598.2" y="1296" text-anchor="middle" font-size="75.5">5</text>
<text x="1883.0" y="1296" text-anchor="middle" font-size="75.5">6</text>
<g font-size="90" font-weight="bold"><text x="200.5" y="118.8">G</text><text x="267" y="118.8">′</text><text x="291" y="118.8">, </text><text x="333" y="118.8">G</text><text transform="translate(400.5,118.8) scale(.88,1)">′′</text><text x="446" y="118.8">, </text><text transform="translate(490,118.8) scale(.95,1)">Pa</text></g>
<text transform="translate(1724,1157) scale(1,1)" font-size="84" font-weight="bold">t, h</text>
<text x="1912" y="119.5" font-size="78" font-style="italic" fill="#0000ff">1</text>
<text x="1902.5" y="268" font-size="76" font-style="italic" fill="#000000">4</text>
<text x="1898" y="352" font-size="78" font-style="italic" fill="#008000">2</text>
<text x="1896" y="606" font-size="78" font-style="italic" fill="#ff0000">3</text>
</g>
</svg>
</body></html>
